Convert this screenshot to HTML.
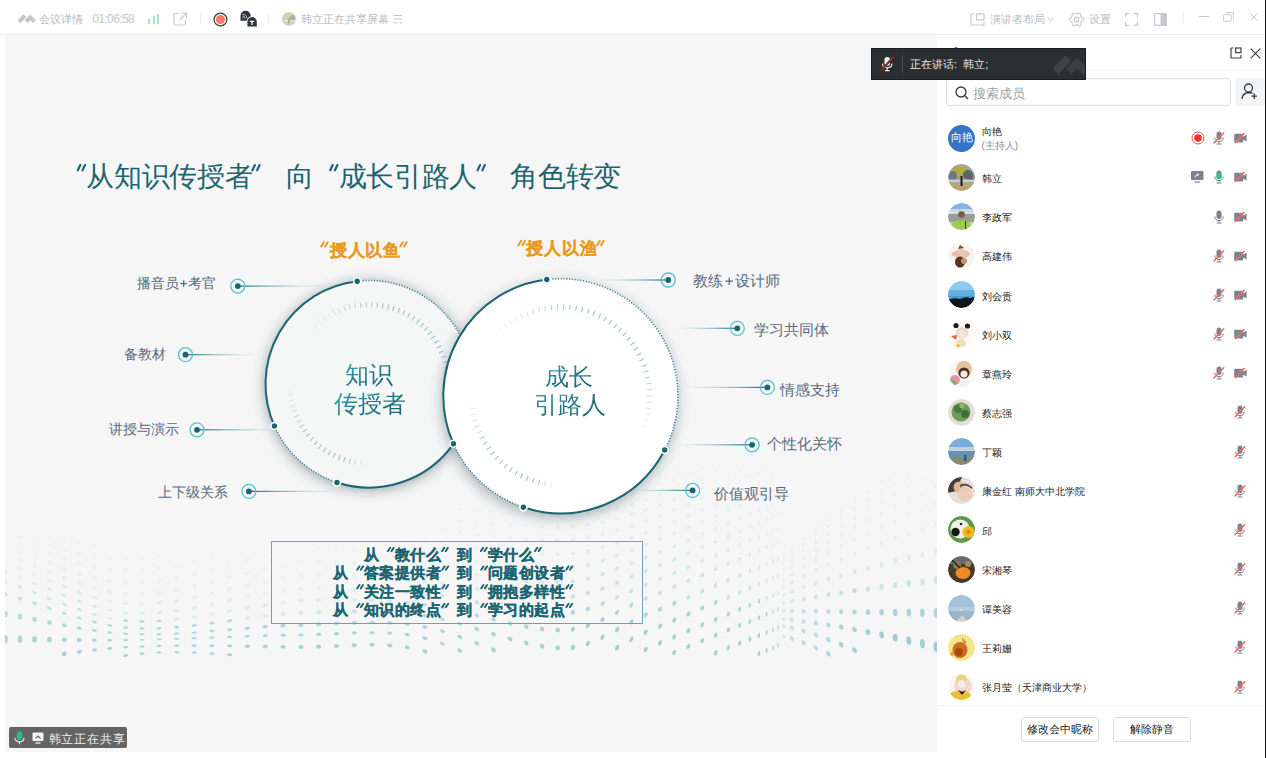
<!DOCTYPE html><html><head><meta charset="utf-8"><style>
html,body{margin:0;padding:0;width:1266px;height:758px;overflow:hidden;background:#fff;font-family:"Liberation Sans", sans-serif}
.a{position:absolute}
.t{position:absolute;white-space:nowrap;line-height:1}
.btn{border:1px solid #d9dbe0;border-radius:3px;box-sizing:border-box;font-size:10.6px;color:#222;text-align:center;line-height:23px;background:#fff}
</style></head><body>
<svg width="0" height="0" style="position:absolute"><defs><filter id="blur1" x="-10%" y="-10%" width="120%" height="120%"><feGaussianBlur stdDeviation="0.75"/></filter></defs></svg><svg class="a" style="left:14px;top:10px" width="24" height="16" viewBox="0 0 24 16">
<path d="M5.2 11.9 L10.75 5.6" stroke="#c2c4c9" stroke-width="3.9"/>
<polyline points="12.1,11.5 16.2,7.4 20.4,11.6" fill="none" stroke="#c2c4c9" stroke-width="4" stroke-linejoin="miter"/></svg><div class="t" style="left:39px;top:13.5px;font-size:11px;color:#b4b7bd;font-weight:400;">会议详情</div><div class="t" style="left:92.3px;top:12.6px;font-size:12px;color:#c3c6cb;font-weight:400;letter-spacing:-0.62px">01:06:58</div><div class="a" style="left:148px;top:19px;width:2px;height:5px;background:#a6e3c4"></div><div class="a" style="left:152.5px;top:16px;width:2px;height:8px;background:#a6e3c4"></div><div class="a" style="left:157px;top:14px;width:2px;height:10px;background:#a6e3c4"></div><svg class="a" style="left:173px;top:12px" width="15" height="14" viewBox="0 0 15 14">
<path d="M6 1.5 H2.5 Q1 1.5 1 3 V11.5 Q1 13 2.5 13 H11 Q12.5 13 12.5 11.5 V8" fill="none" stroke="#c9cbd0" stroke-width="1.2"/>
<path d="M8 1 H13.5 V6.5 M13.5 1 L7 7.5" fill="none" stroke="#c9cbd0" stroke-width="1.2"/></svg><div class="a" style="left:200px;top:13px;width:1px;height:11px;background:#ececef"></div><svg class="a" style="left:213px;top:12px" width="15" height="15" viewBox="0 0 15 15">
<circle cx="7.5" cy="7.5" r="6.4" fill="#fff" stroke="#3b3e46" stroke-width="1.3"/><circle cx="7.5" cy="7.5" r="4.6" fill="#f77b66"/></svg><svg class="a" style="left:240px;top:10px" width="18" height="17" viewBox="0 0 18 17">
<path d="M5.6 0.7 A5 5 0 0 1 10.7 5.7 A5 5 0 0 1 5.6 10.7 H0.5 V5.7 A5 5 0 0 1 5.6 0.7Z" fill="#30343e"/>
<path d="M2.6 4.2 A4.2 4.2 0 0 1 6.9 8.4 M2.6 6 A2.4 2.4 0 0 1 5 8.4 M2.6 7.6 A0.8 0.8 0 0 1 3.4 8.4" fill="none" stroke="#e8e8ea" stroke-width="0.8"/>
<path d="M11.6 6.2 A5.6 5.6 0 0 1 17.4 11.8 V16.9 H6.8 V11.8 A5.6 5.6 0 0 1 11.6 6.2Z" fill="#fff"/>
<path d="M12 7 A4.8 4.8 0 0 1 16.8 11.8 V16.4 H7.4 V11.8 A4.8 4.8 0 0 1 12 7Z" fill="#30343e"/>
<path d="M9.8 11.3 H14.4 M12.1 11.3 V15" stroke="#fff" stroke-width="1.3"/></svg><div class="a" style="left:268px;top:13px;width:1px;height:11px;background:#ececef"></div><svg class="a" style="left:282px;top:12px;opacity:0.5" width="14" height="14" viewBox="0 0 27 27"><clipPath id="avtop"><circle cx="13.5" cy="13.5" r="13.5"/></clipPath><g clip-path="url(#avtop)" filter="url(#blur1)"><rect width="27" height="27" fill="#8896a2"/><rect x="0" y="0" width="27" height="10" fill="#9aa8b8"/><ellipse cx="12" cy="8" rx="9" ry="6.5" fill="#b4a848"/><ellipse cx="20" cy="11" rx="5" ry="5" fill="#5a6868"/><rect x="0" y="15.5" width="27" height="3" fill="#c4ccd4"/><rect x="0" y="18" width="27" height="9" fill="#b8a47a"/><rect x="12.5" y="12" width="2" height="10" fill="#1e1e1e"/></g></svg><div class="t" style="left:301px;top:13.5px;font-size:11px;color:#b9bcc2;font-weight:400;">韩立正在共享屏幕</div><svg class="a" style="left:392px;top:14px" width="11" height="11" viewBox="0 0 11 11">
<path d="M1 1.5 H10 M1 5 H10 M1 8.7 H5.5" stroke="#c4c6cb" stroke-width="1"/><path d="M7.5 8 L9 9.5 L10.5 8" fill="none" stroke="#c4c6cb" stroke-width="0.9"/></svg><svg class="a" style="left:970px;top:13px" width="15" height="13" viewBox="0 0 15 13">
<path d="M4 1 H1.8 Q1 1 1 1.8 V11.2 Q1 12 1.8 12 H13.2 Q14 12 14 11.2 V8.5" fill="none" stroke="#c6c8cd" stroke-width="1.2"/>
<rect x="6.5" y="0.8" width="7.5" height="6" rx="0.6" fill="none" stroke="#c6c8cd" stroke-width="1.2"/></svg><div class="t" style="left:990px;top:13.5px;font-size:11px;color:#b9bcc2;font-weight:400;">演讲者布局</div><svg class="a" style="left:1047px;top:16.5px" width="7" height="5" viewBox="0 0 7 5"><path d="M0.6 0.8 L3.5 3.7 L6.4 0.8" fill="none" stroke="#c4c6cb" stroke-width="1"/></svg><svg class="a" style="left:1069px;top:11.5px" width="15" height="15" viewBox="0 0 15 15">
<path d="M14.60 7.50 L14.55 7.87 L14.39 8.22 L14.15 8.55 L13.84 8.85 L13.49 9.10 L13.13 9.33 L12.79 9.53 L12.50 9.73 L12.26 9.93 L12.09 10.15 L11.98 10.41 L11.93 10.72 L11.91 11.07 L11.90 11.46 L11.88 11.88 L11.83 12.31 L11.73 12.73 L11.57 13.10 L11.34 13.42 L11.05 13.65 L10.70 13.79 L10.32 13.83 L9.91 13.78 L9.50 13.66 L9.10 13.49 L8.73 13.29 L8.39 13.10 L8.07 12.94 L7.78 12.84 L7.50 12.80 L7.22 12.84 L6.93 12.94 L6.61 13.10 L6.27 13.29 L5.90 13.49 L5.50 13.66 L5.09 13.78 L4.68 13.83 L4.30 13.79 L3.95 13.65 L3.66 13.42 L3.43 13.10 L3.27 12.73 L3.17 12.31 L3.12 11.88 L3.10 11.46 L3.09 11.07 L3.07 10.72 L3.02 10.41 L2.91 10.15 L2.74 9.93 L2.50 9.73 L2.21 9.53 L1.87 9.33 L1.51 9.10 L1.16 8.85 L0.85 8.55 L0.61 8.22 L0.45 7.87 L0.40 7.50 L0.45 7.13 L0.61 6.78 L0.85 6.45 L1.16 6.15 L1.51 5.90 L1.87 5.67 L2.21 5.47 L2.50 5.27 L2.74 5.07 L2.91 4.85 L3.02 4.59 L3.07 4.28 L3.09 3.93 L3.10 3.54 L3.12 3.12 L3.17 2.69 L3.27 2.27 L3.43 1.90 L3.66 1.58 L3.95 1.35 L4.30 1.21 L4.68 1.17 L5.09 1.22 L5.50 1.34 L5.90 1.51 L6.27 1.71 L6.61 1.90 L6.93 2.06 L7.22 2.16 L7.50 2.20 L7.78 2.16 L8.07 2.06 L8.39 1.90 L8.73 1.71 L9.10 1.51 L9.50 1.34 L9.91 1.22 L10.32 1.17 L10.70 1.21 L11.05 1.35 L11.34 1.58 L11.57 1.90 L11.73 2.27 L11.83 2.69 L11.88 3.12 L11.90 3.54 L11.91 3.93 L11.93 4.28 L11.98 4.59 L12.09 4.85 L12.26 5.07 L12.50 5.27 L12.79 5.47 L13.13 5.67 L13.49 5.90 L13.84 6.15 L14.15 6.45 L14.39 6.78 L14.55 7.13 L14.60 7.50Z" fill="none" stroke="#c6c8cd" stroke-width="1.15" stroke-linejoin="round"/>
<circle cx="7.5" cy="7.5" r="2.4" fill="none" stroke="#c6c8cd" stroke-width="1.15"/></svg><div class="t" style="left:1089px;top:13.5px;font-size:11px;color:#b9bcc2;font-weight:400;">设置</div><svg class="a" style="left:1125px;top:13px" width="13" height="13" viewBox="0 0 13 13">
<path d="M0.6 4 V0.6 H4 M9 0.6 H12.4 V4 M12.4 9 V12.4 H9 M4 12.4 H0.6 V9" fill="none" stroke="#c6c8cd" stroke-width="1.2"/></svg><svg class="a" style="left:1154px;top:13px" width="13" height="13" viewBox="0 0 13 13">
<rect x="0.6" y="0.6" width="11.8" height="11.8" rx="1" fill="none" stroke="#c6c8cd" stroke-width="1.2"/><rect x="6.5" y="0.6" width="6" height="11.8" fill="#c6c8cd"/></svg><div class="a" style="left:1183px;top:11px;width:1px;height:12px;background:#ececef"></div><div class="a" style="left:1199px;top:16px;width:10px;height:1px;background:#c6c8cd"></div><svg class="a" style="left:1223px;top:12px" width="11" height="10" viewBox="0 0 11 10">
<rect x="0.6" y="2.6" width="7.6" height="6.8" rx="0.8" fill="none" stroke="#c9cbd0" stroke-width="1"/><path d="M2.6 0.6 H10.4 V7.4" fill="none" stroke="#c9cbd0" stroke-width="1"/></svg><svg class="a" style="left:1250px;top:13px" width="8" height="8" viewBox="0 0 8 8"><path d="M0.5 0.5 L7.5 7.5 M7.5 0.5 L0.5 7.5" stroke="#c9cbd0" stroke-width="1"/></svg><div class="a" style="left:0;top:34px;width:1264px;height:1px;background:#ebecf0"></div><div class="a" style="left:1265px;top:0;width:1px;height:758px;background:#111"></div><div class="a" id="slide" style="left:5px;top:35px;width:932px;height:717px;background:#f6f6f6;overflow:hidden"></div><svg class="a" style="left:0;top:0" width="1266" height="758" viewBox="0 0 1266 758"><defs><filter id="sh" x="-40%" y="-40%" width="180%" height="180%"><feGaussianBlur stdDeviation="6.5"/></filter><clipPath id="cs"><rect x="5" y="35" width="932" height="717"/></clipPath></defs><g clip-path="url(#cs)"><g><circle r="1" transform="matrix(2.32 0.01 0.00 3.99 5.5 639.0)" fill="#86c1c9" opacity="0.67"/><circle r="1" transform="matrix(2.32 0.28 0.00 3.19 5.5 614.1)" fill="#86c1c9" opacity="0.51"/><circle r="1" transform="matrix(2.32 0.48 0.00 1.92 5.5 594.1)" fill="#9fd0d6" opacity="0.47"/><circle r="1" transform="matrix(2.32 0.55 0.00 1.60 5.5 582.2)" fill="#9fd0d6" opacity="0.29"/><circle r="1" transform="matrix(2.32 0.58 0.00 1.44 5.5 572.2)" fill="#9fd0d6" opacity="0.18"/><circle r="1" transform="matrix(2.32 0.58 0.00 1.28 5.5 563.2)" fill="#9fd0d6" opacity="0.13"/><circle r="1" transform="matrix(2.32 0.55 0.00 1.12 5.5 555.2)" fill="#9fd0d6" opacity="0.09"/><circle r="1" transform="matrix(2.32 0.49 0.00 1.12 5.5 548.1)" fill="#9fd0d6" opacity="0.07"/><circle r="1" transform="matrix(2.32 0.42 0.00 1.12 5.5 541.1)" fill="#9fd0d6" opacity="0.05"/><circle r="1" transform="matrix(2.32 0.35 0.00 1.12 5.5 534.1)" fill="#9fd0d6" opacity="0.04"/><circle r="1" transform="matrix(2.34 0.03 0.00 3.61 20.0 639.2)" fill="#86c1c9" opacity="0.67"/><circle r="1" transform="matrix(2.34 0.43 0.00 2.91 20.0 616.6)" fill="#86c1c9" opacity="0.53"/><circle r="1" transform="matrix(2.34 0.73 0.00 1.81 20.0 598.4)" fill="#9fd0d6" opacity="0.50"/><circle r="1" transform="matrix(2.34 0.84 0.00 1.56 20.0 587.1)" fill="#9fd0d6" opacity="0.38"/><circle r="1" transform="matrix(2.34 0.89 0.00 1.44 20.0 577.4)" fill="#9fd0d6" opacity="0.21"/><circle r="1" transform="matrix(2.34 0.90 0.00 1.32 20.0 568.4)" fill="#9fd0d6" opacity="0.15"/><circle r="1" transform="matrix(2.34 0.86 0.00 1.20 20.0 560.1)" fill="#9fd0d6" opacity="0.11"/><circle r="1" transform="matrix(2.34 0.78 0.00 1.22 20.0 552.6)" fill="#9fd0d6" opacity="0.08"/><circle r="1" transform="matrix(2.34 0.68 0.00 1.22 20.0 545.0)" fill="#9fd0d6" opacity="0.06"/><circle r="1" transform="matrix(2.34 0.58 0.00 1.22 20.0 537.4)" fill="#9fd0d6" opacity="0.05"/><circle r="1" transform="matrix(2.36 0.03 0.00 3.19 34.6 639.4)" fill="#86c1c9" opacity="0.67"/><circle r="1" transform="matrix(2.36 0.47 0.00 2.60 34.6 619.4)" fill="#86c1c9" opacity="0.56"/><circle r="1" transform="matrix(2.36 0.79 0.00 1.70 34.6 603.2)" fill="#86c1c9" opacity="0.50"/><circle r="1" transform="matrix(2.36 0.92 0.00 1.50 34.6 592.6)" fill="#9fd0d6" opacity="0.45"/><circle r="1" transform="matrix(2.36 0.97 0.00 1.43 34.6 583.2)" fill="#9fd0d6" opacity="0.31"/><circle r="1" transform="matrix(2.36 0.98 0.00 1.36 34.6 574.2)" fill="#9fd0d6" opacity="0.19"/><circle r="1" transform="matrix(2.36 0.94 0.00 1.28 34.6 565.8)" fill="#9fd0d6" opacity="0.14"/><circle r="1" transform="matrix(2.36 0.86 0.00 1.33 34.6 557.8)" fill="#9fd0d6" opacity="0.10"/><circle r="1" transform="matrix(2.36 0.75 0.00 1.33 34.6 549.5)" fill="#9fd0d6" opacity="0.07"/><circle r="1" transform="matrix(2.36 0.64 0.00 1.33 34.6 541.2)" fill="#9fd0d6" opacity="0.05"/><circle r="1" transform="matrix(2.38 0.04 0.00 2.76 49.4 639.6)" fill="#86c1c9" opacity="0.67"/><circle r="1" transform="matrix(2.38 0.48 0.00 2.27 49.4 622.4)" fill="#86c1c9" opacity="0.58"/><circle r="1" transform="matrix(2.38 0.81 0.00 1.57 49.4 608.2)" fill="#86c1c9" opacity="0.49"/><circle r="1" transform="matrix(2.38 0.94 0.00 1.45 49.4 598.4)" fill="#9fd0d6" opacity="0.49"/><circle r="1" transform="matrix(2.38 0.99 0.00 1.42 49.4 589.3)" fill="#9fd0d6" opacity="0.40"/><circle r="1" transform="matrix(2.38 1.00 0.00 1.39 49.4 580.5)" fill="#9fd0d6" opacity="0.25"/><circle r="1" transform="matrix(2.38 0.97 0.00 1.37 49.4 571.8)" fill="#9fd0d6" opacity="0.17"/><circle r="1" transform="matrix(2.38 0.88 0.00 1.44 49.4 563.2)" fill="#9fd0d6" opacity="0.13"/><circle r="1" transform="matrix(2.38 0.77 0.00 1.44 49.4 554.2)" fill="#9fd0d6" opacity="0.09"/><circle r="1" transform="matrix(2.38 0.66 0.00 1.44 49.4 545.3)" fill="#9fd0d6" opacity="0.06"/><circle r="1" transform="matrix(2.38 0.55 0.00 1.45 49.4 536.2)" fill="#9fd0d6" opacity="0.04"/><circle r="1" transform="matrix(2.40 -0.33 0.00 2.25 64.3 653.9)" fill="#86c1c9" opacity="0.69"/><circle r="1" transform="matrix(2.40 0.03 0.00 2.32 64.3 639.8)" fill="#86c1c9" opacity="0.67"/><circle r="1" transform="matrix(2.40 0.46 0.00 1.94 64.3 625.3)" fill="#86c1c9" opacity="0.60"/><circle r="1" transform="matrix(2.40 0.79 0.00 1.45 64.3 613.2)" fill="#86c1c9" opacity="0.50"/><circle r="1" transform="matrix(2.40 0.91 0.00 1.39 64.3 604.2)" fill="#86c1c9" opacity="0.44"/><circle r="1" transform="matrix(2.40 0.96 0.00 1.41 64.3 595.4)" fill="#9fd0d6" opacity="0.42"/><circle r="1" transform="matrix(2.40 0.97 0.00 1.43 64.3 586.6)" fill="#9fd0d6" opacity="0.32"/><circle r="1" transform="matrix(2.40 0.94 0.00 1.45 64.3 577.7)" fill="#9fd0d6" opacity="0.21"/><circle r="1" transform="matrix(2.40 0.85 0.00 1.55 64.3 568.6)" fill="#9fd0d6" opacity="0.15"/><circle r="1" transform="matrix(2.40 0.74 0.00 1.55 64.3 559.0)" fill="#9fd0d6" opacity="0.11"/><circle r="1" transform="matrix(2.40 0.63 0.00 1.55 64.3 549.3)" fill="#9fd0d6" opacity="0.07"/><circle r="1" transform="matrix(2.40 0.52 0.00 1.56 64.3 539.6)" fill="#9fd0d6" opacity="0.05"/><circle r="1" transform="matrix(2.43 -0.31 0.00 1.90 79.3 651.8)" fill="#86c1c9" opacity="0.69"/><circle r="1" transform="matrix(2.43 0.03 0.00 1.90 79.3 640.0)" fill="#86c1c9" opacity="0.67"/><circle r="1" transform="matrix(2.43 0.43 0.00 1.63 79.3 628.1)" fill="#86c1c9" opacity="0.62"/><circle r="1" transform="matrix(2.43 0.73 0.00 1.33 79.3 617.9)" fill="#86c1c9" opacity="0.47"/><circle r="1" transform="matrix(2.43 0.83 0.00 1.34 79.3 609.6)" fill="#86c1c9" opacity="0.41"/><circle r="1" transform="matrix(2.43 0.88 0.00 1.40 79.3 601.2)" fill="#86c1c9" opacity="0.35"/><circle r="1" transform="matrix(2.43 0.89 0.00 1.47 79.3 592.4)" fill="#9fd0d6" opacity="0.32"/><circle r="1" transform="matrix(2.43 0.85 0.00 1.53 79.3 583.3)" fill="#9fd0d6" opacity="0.22"/><circle r="1" transform="matrix(2.43 0.77 0.00 1.65 79.3 573.7)" fill="#9fd0d6" opacity="0.16"/><circle r="1" transform="matrix(2.43 0.66 0.00 1.65 79.3 563.4)" fill="#9fd0d6" opacity="0.11"/><circle r="1" transform="matrix(2.43 0.56 0.00 1.66 79.3 553.0)" fill="#9fd0d6" opacity="0.07"/><circle r="1" transform="matrix(2.43 0.45 0.00 1.67 79.3 542.7)" fill="#9fd0d6" opacity="0.05"/><circle r="1" transform="matrix(2.46 -0.28 0.00 1.58 94.4 650.0)" fill="#86c1c9" opacity="0.69"/><circle r="1" transform="matrix(2.46 0.01 0.00 1.53 94.4 640.1)" fill="#86c1c9" opacity="0.67"/><circle r="1" transform="matrix(2.46 0.36 0.00 1.35 94.4 630.5)" fill="#86c1c9" opacity="0.63"/><circle r="1" transform="matrix(2.46 0.62 0.00 1.23 94.4 622.1)" fill="#86c1c9" opacity="0.58"/><circle r="1" transform="matrix(2.46 0.70 0.00 1.30 94.4 614.4)" fill="#86c1c9" opacity="0.34"/><circle r="1" transform="matrix(2.46 0.74 0.00 1.40 94.4 606.3)" fill="#86c1c9" opacity="0.30"/><circle r="1" transform="matrix(2.46 0.73 0.00 1.51 94.4 597.5)" fill="#9fd0d6" opacity="0.25"/><circle r="1" transform="matrix(2.46 0.69 0.00 1.61 94.4 588.1)" fill="#9fd0d6" opacity="0.20"/><circle r="1" transform="matrix(2.46 0.62 0.00 1.75 94.4 578.0)" fill="#9fd0d6" opacity="0.14"/><circle r="1" transform="matrix(2.46 0.53 0.00 1.75 94.4 567.1)" fill="#9fd0d6" opacity="0.10"/><circle r="1" transform="matrix(2.46 0.43 0.00 1.76 94.4 556.1)" fill="#9fd0d6" opacity="0.06"/><circle r="1" transform="matrix(2.46 0.34 0.00 1.77 94.4 545.1)" fill="#9fd0d6" opacity="0.04"/><circle r="1" transform="matrix(2.52 -0.23 0.00 1.33 109.8 648.4)" fill="#86c1c9" opacity="0.69"/><circle r="1" transform="matrix(2.52 -0.00 0.00 1.22 109.8 640.1)" fill="#86c1c9" opacity="0.67"/><circle r="1" transform="matrix(2.52 0.27 0.00 1.13 109.8 632.5)" fill="#86c1c9" opacity="0.64"/><circle r="1" transform="matrix(2.52 0.46 0.00 1.16 109.8 625.5)" fill="#86c1c9" opacity="0.60"/><circle r="1" transform="matrix(2.52 0.52 0.00 1.28 109.8 618.2)" fill="#86c1c9" opacity="0.27"/><circle r="1" transform="matrix(2.52 0.53 0.00 1.41 109.8 610.2)" fill="#86c1c9" opacity="0.24"/><circle r="1" transform="matrix(2.52 0.52 0.00 1.55 109.8 601.4)" fill="#86c1c9" opacity="0.20"/><circle r="1" transform="matrix(2.52 0.48 0.00 1.68 109.8 591.8)" fill="#9fd0d6" opacity="0.16"/><circle r="1" transform="matrix(2.52 0.41 0.00 1.84 109.8 581.2)" fill="#9fd0d6" opacity="0.12"/><circle r="1" transform="matrix(2.52 0.33 0.00 1.84 109.8 569.8)" fill="#9fd0d6" opacity="0.08"/><circle r="1" transform="matrix(2.52 0.25 0.00 1.84 109.8 558.3)" fill="#9fd0d6" opacity="0.05"/><circle r="1" transform="matrix(2.60 -0.43 0.00 1.35 125.6 655.7)" fill="#86c1c9" opacity="0.69"/><circle r="1" transform="matrix(2.60 -0.16 0.00 1.15 125.6 647.2)" fill="#86c1c9" opacity="0.69"/><circle r="1" transform="matrix(2.60 -0.03 0.00 1.00 125.6 640.1)" fill="#86c1c9" opacity="0.67"/><circle r="1" transform="matrix(2.60 0.14 0.00 0.98 125.6 633.8)" fill="#86c1c9" opacity="0.65"/><circle r="1" transform="matrix(2.60 0.24 0.00 1.12 125.6 627.7)" fill="#86c1c9" opacity="0.61"/><circle r="1" transform="matrix(2.60 0.26 0.00 1.28 125.6 620.6)" fill="#86c1c9" opacity="0.56"/><circle r="1" transform="matrix(2.60 0.25 0.00 1.43 125.6 612.7)" fill="#86c1c9" opacity="0.23"/><circle r="1" transform="matrix(2.60 0.22 0.00 1.59 125.6 603.7)" fill="#86c1c9" opacity="0.19"/><circle r="1" transform="matrix(2.60 0.17 0.00 1.75 125.6 593.8)" fill="#9fd0d6" opacity="0.15"/><circle r="1" transform="matrix(2.60 0.11 0.00 1.90 125.6 582.9)" fill="#9fd0d6" opacity="0.11"/><circle r="1" transform="matrix(2.60 0.05 0.00 1.90 125.6 571.0)" fill="#9fd0d6" opacity="0.08"/><circle r="1" transform="matrix(2.60 -0.00 0.00 1.91 125.6 559.1)" fill="#9fd0d6" opacity="0.05"/><circle r="1" transform="matrix(2.60 -0.24 0.00 1.15 142.0 653.6)" fill="#86c1c9" opacity="0.69"/><circle r="1" transform="matrix(2.60 -0.10 0.00 1.07 142.0 646.5)" fill="#86c1c9" opacity="0.69"/><circle r="1" transform="matrix(2.60 -0.05 0.00 0.88 142.0 639.8)" fill="#86c1c9" opacity="0.67"/><circle r="1" transform="matrix(2.60 0.03 0.00 0.93 142.0 634.3)" fill="#86c1c9" opacity="0.65"/><circle r="1" transform="matrix(2.60 0.05 0.00 1.13 142.0 628.5)" fill="#86c1c9" opacity="0.62"/><circle r="1" transform="matrix(2.60 0.02 0.00 1.30 142.0 621.4)" fill="#86c1c9" opacity="0.57"/><circle r="1" transform="matrix(2.60 -0.01 0.00 1.47 142.0 613.3)" fill="#86c1c9" opacity="0.23"/><circle r="1" transform="matrix(2.60 -0.06 0.00 1.63 142.0 604.1)" fill="#86c1c9" opacity="0.19"/><circle r="1" transform="matrix(2.60 -0.11 0.00 1.80 142.0 593.9)" fill="#9fd0d6" opacity="0.15"/><circle r="1" transform="matrix(2.60 -0.15 0.00 1.96 142.0 582.7)" fill="#9fd0d6" opacity="0.11"/><circle r="1" transform="matrix(2.60 -0.20 0.00 1.96 142.0 570.5)" fill="#9fd0d6" opacity="0.07"/><circle r="1" transform="matrix(2.60 -0.24 0.00 1.95 142.0 558.2)" fill="#9fd0d6" opacity="0.05"/><circle r="1" transform="matrix(2.60 -0.11 0.00 1.05 159.1 652.5)" fill="#86c1c9" opacity="0.69"/><circle r="1" transform="matrix(2.60 -0.06 0.00 1.05 159.1 645.9)" fill="#86c1c9" opacity="0.69"/><circle r="1" transform="matrix(2.60 -0.07 0.00 0.84 159.1 639.4)" fill="#86c1c9" opacity="0.67"/><circle r="1" transform="matrix(2.60 -0.06 0.00 0.94 159.1 634.2)" fill="#86c1c9" opacity="0.65"/><circle r="1" transform="matrix(2.60 -0.10 0.00 1.17 159.1 628.3)" fill="#86c1c9" opacity="0.62"/><circle r="1" transform="matrix(2.60 -0.15 0.00 1.34 159.1 621.0)" fill="#86c1c9" opacity="0.57"/><circle r="1" transform="matrix(2.60 -0.21 0.00 1.53 159.1 612.6)" fill="#86c1c9" opacity="0.23"/><circle r="1" transform="matrix(2.60 -0.27 0.00 1.68 159.1 603.0)" fill="#86c1c9" opacity="0.19"/><circle r="1" transform="matrix(2.60 -0.32 0.00 1.85 159.1 592.5)" fill="#9fd0d6" opacity="0.15"/><circle r="1" transform="matrix(2.60 -0.36 0.00 2.00 159.1 581.0)" fill="#9fd0d6" opacity="0.11"/><circle r="1" transform="matrix(2.60 -0.39 0.00 2.00 159.1 568.5)" fill="#9fd0d6" opacity="0.07"/><circle r="1" transform="matrix(2.60 -0.42 0.00 1.97 159.1 556.0)" fill="#9fd0d6" opacity="0.04"/><circle r="1" transform="matrix(2.60 0.01 0.00 1.04 176.6 652.2)" fill="#86c1c9" opacity="0.69"/><circle r="1" transform="matrix(2.60 -0.03 0.00 1.09 176.6 645.7)" fill="#86c1c9" opacity="0.69"/><circle r="1" transform="matrix(2.60 -0.09 0.00 0.85 176.6 638.8)" fill="#86c1c9" opacity="0.67"/><circle r="1" transform="matrix(2.60 -0.13 0.00 1.00 176.6 633.5)" fill="#86c1c9" opacity="0.65"/><circle r="1" transform="matrix(2.60 -0.21 0.00 1.25 176.6 627.2)" fill="#86c1c9" opacity="0.61"/><circle r="1" transform="matrix(2.60 -0.29 0.00 1.41 176.6 619.4)" fill="#86c1c9" opacity="0.25"/><circle r="1" transform="matrix(2.60 -0.36 0.00 1.60 176.6 610.6)" fill="#86c1c9" opacity="0.22"/><circle r="1" transform="matrix(2.60 -0.43 0.00 1.74 176.6 600.7)" fill="#86c1c9" opacity="0.18"/><circle r="1" transform="matrix(2.60 -0.48 0.00 1.89 176.6 589.8)" fill="#9fd0d6" opacity="0.14"/><circle r="1" transform="matrix(2.60 -0.52 0.00 2.02 176.6 578.0)" fill="#9fd0d6" opacity="0.10"/><circle r="1" transform="matrix(2.60 -0.54 0.00 2.02 176.6 565.3)" fill="#9fd0d6" opacity="0.06"/><circle r="1" transform="matrix(2.60 0.10 0.00 1.12 194.2 652.6)" fill="#86c1c9" opacity="0.69"/><circle r="1" transform="matrix(2.60 0.00 0.00 1.18 194.2 645.6)" fill="#86c1c9" opacity="0.69"/><circle r="1" transform="matrix(2.60 -0.10 0.00 0.92 194.2 638.2)" fill="#86c1c9" opacity="0.67"/><circle r="1" transform="matrix(2.60 -0.18 0.00 1.12 194.2 632.5)" fill="#86c1c9" opacity="0.64"/><circle r="1" transform="matrix(2.60 -0.30 0.00 1.34 194.2 625.5)" fill="#86c1c9" opacity="0.60"/><circle r="1" transform="matrix(2.60 -0.40 0.00 1.49 194.2 617.1)" fill="#86c1c9" opacity="0.24"/><circle r="1" transform="matrix(2.60 -0.47 0.00 1.67 194.2 607.8)" fill="#86c1c9" opacity="0.21"/><circle r="1" transform="matrix(2.60 -0.55 0.00 1.80 194.2 597.3)" fill="#9fd0d6" opacity="0.17"/><circle r="1" transform="matrix(2.60 -0.60 0.00 1.93 194.2 586.1)" fill="#9fd0d6" opacity="0.12"/><circle r="1" transform="matrix(2.60 -0.63 0.00 2.04 194.2 574.1)" fill="#9fd0d6" opacity="0.08"/><circle r="1" transform="matrix(2.60 -0.65 0.00 2.04 194.2 561.3)" fill="#9fd0d6" opacity="0.05"/><circle r="1" transform="matrix(2.60 0.16 0.00 1.25 211.9 653.5)" fill="#86c1c9" opacity="0.69"/><circle r="1" transform="matrix(2.60 0.02 0.00 1.30 211.9 645.7)" fill="#86c1c9" opacity="0.69"/><circle r="1" transform="matrix(2.60 -0.10 0.00 1.03 211.9 637.6)" fill="#86c1c9" opacity="0.66"/><circle r="1" transform="matrix(2.60 -0.21 0.00 1.26 211.9 631.1)" fill="#86c1c9" opacity="0.63"/><circle r="1" transform="matrix(2.60 -0.35 0.00 1.45 211.9 623.2)" fill="#86c1c9" opacity="0.58"/><circle r="1" transform="matrix(2.60 -0.46 0.00 1.57 211.9 614.2)" fill="#86c1c9" opacity="0.23"/><circle r="1" transform="matrix(2.60 -0.54 0.00 1.76 211.9 604.3)" fill="#86c1c9" opacity="0.19"/><circle r="1" transform="matrix(2.60 -0.61 0.00 1.85 211.9 593.4)" fill="#9fd0d6" opacity="0.15"/><circle r="1" transform="matrix(2.60 -0.66 0.00 1.96 211.9 581.8)" fill="#9fd0d6" opacity="0.11"/><circle r="1" transform="matrix(2.60 -0.69 0.00 2.06 211.9 569.5)" fill="#9fd0d6" opacity="0.07"/><circle r="1" transform="matrix(2.60 -0.70 0.00 2.06 211.9 556.7)" fill="#9fd0d6" opacity="0.04"/><circle r="1" transform="matrix(2.60 0.21 0.00 1.42 229.6 654.7)" fill="#86c1c9" opacity="0.69"/><circle r="1" transform="matrix(2.60 0.04 0.00 1.44 229.6 645.9)" fill="#86c1c9" opacity="0.69"/><circle r="1" transform="matrix(2.60 -0.10 0.00 1.16 229.6 636.9)" fill="#86c1c9" opacity="0.66"/><circle r="1" transform="matrix(2.60 -0.22 0.00 1.42 229.6 629.7)" fill="#86c1c9" opacity="0.63"/><circle r="1" transform="matrix(2.60 -0.37 0.00 1.57 229.6 620.8)" fill="#86c1c9" opacity="0.57"/><circle r="1" transform="matrix(2.60 -0.48 0.00 1.66 229.6 611.0)" fill="#86c1c9" opacity="0.22"/><circle r="1" transform="matrix(2.60 -0.56 0.00 1.84 229.6 600.6)" fill="#86c1c9" opacity="0.18"/><circle r="1" transform="matrix(2.60 -0.63 0.00 1.91 229.6 589.1)" fill="#9fd0d6" opacity="0.13"/><circle r="1" transform="matrix(2.60 -0.68 0.00 1.99 229.6 577.2)" fill="#9fd0d6" opacity="0.09"/><circle r="1" transform="matrix(2.60 -0.70 0.00 2.06 229.6 564.7)" fill="#9fd0d6" opacity="0.06"/><circle r="1" transform="matrix(2.60 0.05 0.00 1.59 247.4 646.2)" fill="#86c1c9" opacity="0.69"/><circle r="1" transform="matrix(2.60 -0.09 0.00 1.29 247.4 636.2)" fill="#86c1c9" opacity="0.66"/><circle r="1" transform="matrix(2.60 -0.21 0.00 1.58 247.4 628.2)" fill="#86c1c9" opacity="0.62"/><circle r="1" transform="matrix(2.60 -0.36 0.00 1.68 247.4 618.3)" fill="#86c1c9" opacity="0.25"/><circle r="1" transform="matrix(2.60 -0.46 0.00 1.74 247.4 607.8)" fill="#86c1c9" opacity="0.21"/><circle r="1" transform="matrix(2.60 -0.53 0.00 1.92 247.4 596.8)" fill="#9fd0d6" opacity="0.16"/><circle r="1" transform="matrix(2.60 -0.60 0.00 1.96 247.4 584.9)" fill="#9fd0d6" opacity="0.12"/><circle r="1" transform="matrix(2.60 -0.64 0.00 2.02 247.4 572.6)" fill="#9fd0d6" opacity="0.08"/><circle r="1" transform="matrix(2.60 -0.67 0.00 2.07 247.4 560.0)" fill="#9fd0d6" opacity="0.05"/><circle r="1" transform="matrix(2.60 0.05 0.00 1.73 265.2 646.5)" fill="#86c1c9" opacity="0.69"/><circle r="1" transform="matrix(2.60 -0.07 0.00 1.42 265.2 635.7)" fill="#86c1c9" opacity="0.66"/><circle r="1" transform="matrix(2.60 -0.18 0.00 1.73 265.2 626.8)" fill="#86c1c9" opacity="0.61"/><circle r="1" transform="matrix(2.60 -0.31 0.00 1.78 265.2 616.0)" fill="#86c1c9" opacity="0.24"/><circle r="1" transform="matrix(2.60 -0.39 0.00 1.82 265.2 604.8)" fill="#86c1c9" opacity="0.20"/><circle r="1" transform="matrix(2.60 -0.46 0.00 1.99 265.2 593.4)" fill="#9fd0d6" opacity="0.15"/><circle r="1" transform="matrix(2.60 -0.51 0.00 2.01 265.2 581.0)" fill="#9fd0d6" opacity="0.11"/><circle r="1" transform="matrix(2.60 -0.55 0.00 2.04 265.2 568.5)" fill="#9fd0d6" opacity="0.07"/><circle r="1" transform="matrix(2.60 -0.57 0.00 2.07 265.2 555.7)" fill="#9fd0d6" opacity="0.04"/><circle r="1" transform="matrix(2.60 0.04 0.00 1.84 283.1 646.8)" fill="#86c1c9" opacity="0.69"/><circle r="1" transform="matrix(2.60 -0.05 0.00 1.53 283.1 635.3)" fill="#86c1c9" opacity="0.65"/><circle r="1" transform="matrix(2.60 -0.14 0.00 1.85 283.1 625.7)" fill="#86c1c9" opacity="0.60"/><circle r="1" transform="matrix(2.60 -0.23 0.00 1.87 283.1 614.1)" fill="#86c1c9" opacity="0.25"/><circle r="1" transform="matrix(2.60 -0.29 0.00 1.88 283.1 602.5)" fill="#86c1c9" opacity="0.20"/><circle r="1" transform="matrix(2.60 -0.34 0.00 2.04 283.1 590.7)" fill="#9fd0d6" opacity="0.15"/><circle r="1" transform="matrix(2.60 -0.38 0.00 2.05 283.1 577.9)" fill="#9fd0d6" opacity="0.11"/><circle r="1" transform="matrix(2.60 -0.41 0.00 2.06 283.1 565.1)" fill="#9fd0d6" opacity="0.07"/><circle r="1" transform="matrix(2.60 0.02 0.00 1.92 300.9 647.0)" fill="#86c1c9" opacity="0.69"/><circle r="1" transform="matrix(2.60 -0.03 0.00 1.60 300.9 635.0)" fill="#86c1c9" opacity="0.65"/><circle r="1" transform="matrix(2.60 -0.07 0.00 1.92 300.9 625.0)" fill="#86c1c9" opacity="0.60"/><circle r="1" transform="matrix(2.60 -0.12 0.00 1.92 300.9 613.0)" fill="#86c1c9" opacity="0.27"/><circle r="1" transform="matrix(2.60 -0.15 0.00 1.92 300.9 600.9)" fill="#86c1c9" opacity="0.22"/><circle r="1" transform="matrix(2.60 -0.17 0.00 2.08 300.9 588.9)" fill="#9fd0d6" opacity="0.16"/><circle r="1" transform="matrix(2.60 -0.20 0.00 2.08 300.9 575.9)" fill="#9fd0d6" opacity="0.11"/><circle r="1" transform="matrix(2.60 -0.22 0.00 2.08 300.9 562.9)" fill="#9fd0d6" opacity="0.07"/><circle r="1" transform="matrix(2.60 -0.09 0.00 1.96 318.7 646.7)" fill="#86c1c9" opacity="0.69"/><circle r="1" transform="matrix(2.60 -0.11 0.00 1.63 318.7 634.5)" fill="#86c1c9" opacity="0.65"/><circle r="1" transform="matrix(2.60 -0.12 0.00 1.93 318.7 624.3)" fill="#86c1c9" opacity="0.59"/><circle r="1" transform="matrix(2.60 -0.10 0.00 1.93 318.7 612.2)" fill="#86c1c9" opacity="0.30"/><circle r="1" transform="matrix(2.60 -0.09 0.00 1.92 318.7 600.1)" fill="#86c1c9" opacity="0.24"/><circle r="1" transform="matrix(2.60 -0.07 0.00 2.09 318.7 588.1)" fill="#9fd0d6" opacity="0.18"/><circle r="1" transform="matrix(2.60 -0.06 0.00 2.10 318.7 575.1)" fill="#9fd0d6" opacity="0.12"/><circle r="1" transform="matrix(2.60 -0.06 0.00 2.09 318.7 562.0)" fill="#9fd0d6" opacity="0.07"/><circle r="1" transform="matrix(2.60 -0.07 0.00 2.09 318.7 548.9)" fill="#9fd0d6" opacity="0.04"/><circle r="1" transform="matrix(2.60 -0.13 0.00 1.97 336.5 645.9)" fill="#86c1c9" opacity="0.69"/><circle r="1" transform="matrix(2.60 -0.13 0.00 1.63 336.5 633.7)" fill="#86c1c9" opacity="0.65"/><circle r="1" transform="matrix(2.60 -0.12 0.00 1.90 336.5 623.5)" fill="#86c1c9" opacity="0.59"/><circle r="1" transform="matrix(2.60 -0.07 0.00 1.90 336.5 611.6)" fill="#86c1c9" opacity="0.33"/><circle r="1" transform="matrix(2.60 -0.02 0.00 1.89 336.5 599.8)" fill="#9fd0d6" opacity="0.26"/><circle r="1" transform="matrix(2.60 0.02 0.00 2.06 336.5 588.0)" fill="#9fd0d6" opacity="0.19"/><circle r="1" transform="matrix(2.60 0.06 0.00 2.10 336.5 575.1)" fill="#9fd0d6" opacity="0.13"/><circle r="1" transform="matrix(2.60 0.06 0.00 2.09 336.5 562.0)" fill="#9fd0d6" opacity="0.08"/><circle r="1" transform="matrix(2.60 0.06 0.00 2.09 336.5 548.9)" fill="#9fd0d6" opacity="0.05"/><circle r="1" transform="matrix(2.60 -0.09 0.00 1.96 354.3 645.2)" fill="#86c1c9" opacity="0.69"/><circle r="1" transform="matrix(2.60 -0.09 0.00 1.62 354.3 632.9)" fill="#86c1c9" opacity="0.64"/><circle r="1" transform="matrix(2.60 -0.08 0.00 1.83 354.3 622.8)" fill="#86c1c9" opacity="0.58"/><circle r="1" transform="matrix(2.60 -0.01 0.00 1.84 354.3 611.4)" fill="#86c1c9" opacity="0.36"/><circle r="1" transform="matrix(2.60 0.04 0.00 1.84 354.3 599.9)" fill="#9fd0d6" opacity="0.29"/><circle r="1" transform="matrix(2.60 0.10 0.00 2.01 354.3 588.4)" fill="#9fd0d6" opacity="0.22"/><circle r="1" transform="matrix(2.60 0.14 0.00 2.09 354.3 575.8)" fill="#9fd0d6" opacity="0.15"/><circle r="1" transform="matrix(2.60 0.15 0.00 2.09 354.3 562.7)" fill="#9fd0d6" opacity="0.09"/><circle r="1" transform="matrix(2.60 0.16 0.00 2.08 354.3 549.7)" fill="#9fd0d6" opacity="0.05"/><circle r="1" transform="matrix(2.60 0.01 0.00 1.96 372.0 644.8)" fill="#86c1c9" opacity="0.69"/><circle r="1" transform="matrix(2.60 0.01 0.00 1.61 372.0 632.6)" fill="#86c1c9" opacity="0.64"/><circle r="1" transform="matrix(2.60 0.00 0.00 1.76 372.0 622.5)" fill="#86c1c9" opacity="0.58"/><circle r="1" transform="matrix(2.60 0.06 0.00 1.78 372.0 611.5)" fill="#86c1c9" opacity="0.40"/><circle r="1" transform="matrix(2.60 0.11 0.00 1.78 372.0 600.4)" fill="#86c1c9" opacity="0.32"/><circle r="1" transform="matrix(2.60 0.15 0.00 1.96 372.0 589.2)" fill="#9fd0d6" opacity="0.25"/><circle r="1" transform="matrix(2.60 0.20 0.00 2.08 372.0 577.0)" fill="#9fd0d6" opacity="0.17"/><circle r="1" transform="matrix(2.60 0.21 0.00 2.08 372.0 564.0)" fill="#9fd0d6" opacity="0.11"/><circle r="1" transform="matrix(2.60 0.22 0.00 2.08 372.0 551.0)" fill="#9fd0d6" opacity="0.06"/><circle r="1" transform="matrix(2.60 0.18 0.00 1.97 389.7 645.4)" fill="#86c1c9" opacity="0.69"/><circle r="1" transform="matrix(2.60 0.16 0.00 1.63 389.7 633.1)" fill="#86c1c9" opacity="0.64"/><circle r="1" transform="matrix(2.60 0.12 0.00 1.72 389.7 622.9)" fill="#86c1c9" opacity="0.58"/><circle r="1" transform="matrix(2.60 0.15 0.00 1.74 389.7 612.2)" fill="#86c1c9" opacity="0.44"/><circle r="1" transform="matrix(2.60 0.17 0.00 1.74 389.7 601.3)" fill="#86c1c9" opacity="0.36"/><circle r="1" transform="matrix(2.60 0.20 0.00 1.92 389.7 590.4)" fill="#9fd0d6" opacity="0.27"/><circle r="1" transform="matrix(2.60 0.22 0.00 2.07 389.7 578.4)" fill="#9fd0d6" opacity="0.19"/><circle r="1" transform="matrix(2.60 0.23 0.00 2.08 389.7 565.5)" fill="#9fd0d6" opacity="0.12"/><circle r="1" transform="matrix(2.60 0.23 0.00 2.07 389.7 552.5)" fill="#9fd0d6" opacity="0.07"/><circle r="1" transform="matrix(2.60 0.23 0.00 2.07 389.7 539.5)" fill="#9fd0d6" opacity="0.04"/><circle r="1" transform="matrix(2.60 0.42 0.00 2.02 407.3 647.4)" fill="#86c1c9" opacity="0.69"/><circle r="1" transform="matrix(2.60 0.36 0.00 1.68 407.3 634.8)" fill="#86c1c9" opacity="0.65"/><circle r="1" transform="matrix(2.60 0.28 0.00 1.72 407.3 624.3)" fill="#86c1c9" opacity="0.59"/><circle r="1" transform="matrix(2.60 0.26 0.00 1.73 407.3 613.5)" fill="#86c1c9" opacity="0.48"/><circle r="1" transform="matrix(2.60 0.24 0.00 1.74 407.3 602.7)" fill="#86c1c9" opacity="0.39"/><circle r="1" transform="matrix(2.60 0.22 0.00 1.91 407.3 591.9)" fill="#9fd0d6" opacity="0.30"/><circle r="1" transform="matrix(2.60 0.22 0.00 2.07 407.3 579.9)" fill="#9fd0d6" opacity="0.21"/><circle r="1" transform="matrix(2.60 0.22 0.00 2.08 407.3 567.0)" fill="#9fd0d6" opacity="0.14"/><circle r="1" transform="matrix(2.60 0.21 0.00 2.07 407.3 554.0)" fill="#9fd0d6" opacity="0.08"/><circle r="1" transform="matrix(2.60 0.21 0.00 2.07 407.3 541.1)" fill="#9fd0d6" opacity="0.05"/><circle r="1" transform="matrix(2.60 0.76 0.00 2.11 424.9 651.3)" fill="#86c1c9" opacity="0.69"/><circle r="1" transform="matrix(2.60 0.65 0.00 1.80 424.9 638.1)" fill="#86c1c9" opacity="0.67"/><circle r="1" transform="matrix(2.60 0.51 0.00 1.79 424.9 626.9)" fill="#86c1c9" opacity="0.61"/><circle r="1" transform="matrix(2.60 0.41 0.00 1.78 424.9 615.7)" fill="#86c1c9" opacity="0.51"/><circle r="1" transform="matrix(2.60 0.34 0.00 1.78 424.9 604.6)" fill="#86c1c9" opacity="0.42"/><circle r="1" transform="matrix(2.60 0.28 0.00 1.93 424.9 593.5)" fill="#9fd0d6" opacity="0.33"/><circle r="1" transform="matrix(2.60 0.24 0.00 2.09 424.9 581.4)" fill="#9fd0d6" opacity="0.23"/><circle r="1" transform="matrix(2.60 0.22 0.00 2.08 424.9 568.4)" fill="#9fd0d6" opacity="0.15"/><circle r="1" transform="matrix(2.60 0.21 0.00 2.08 424.9 555.4)" fill="#9fd0d6" opacity="0.09"/><circle r="1" transform="matrix(2.60 0.19 0.00 2.08 424.9 542.3)" fill="#9fd0d6" opacity="0.05"/><circle r="1" transform="matrix(2.34 0.86 0.00 1.78 442.4 643.5)" fill="#86c1c9" opacity="0.68"/><circle r="1" transform="matrix(2.34 0.69 0.00 1.73 442.4 631.2)" fill="#86c1c9" opacity="0.64"/><circle r="1" transform="matrix(2.34 0.56 0.00 1.69 442.4 619.2)" fill="#86c1c9" opacity="0.55"/><circle r="1" transform="matrix(2.34 0.46 0.00 1.68 442.4 607.5)" fill="#86c1c9" opacity="0.46"/><circle r="1" transform="matrix(2.34 0.37 0.00 1.79 442.4 595.8)" fill="#9fd0d6" opacity="0.36"/><circle r="1" transform="matrix(2.34 0.31 0.00 1.91 442.4 583.4)" fill="#9fd0d6" opacity="0.26"/><circle r="1" transform="matrix(2.34 0.28 0.00 1.89 442.4 570.2)" fill="#9fd0d6" opacity="0.17"/><circle r="1" transform="matrix(2.34 0.26 0.00 1.89 442.4 557.0)" fill="#9fd0d6" opacity="0.10"/><circle r="1" transform="matrix(2.34 0.24 0.00 1.89 442.4 543.9)" fill="#9fd0d6" opacity="0.06"/><circle r="1" transform="matrix(2.34 0.22 0.00 1.75 442.4 530.8)" fill="#9fd0d6" opacity="0.04"/><circle r="1" transform="matrix(2.34 1.04 0.00 1.98 459.7 650.6)" fill="#86c1c9" opacity="0.69"/><circle r="1" transform="matrix(2.34 0.84 0.00 1.88 459.7 636.9)" fill="#86c1c9" opacity="0.67"/><circle r="1" transform="matrix(2.34 0.67 0.00 1.81 459.7 623.8)" fill="#86c1c9" opacity="0.59"/><circle r="1" transform="matrix(2.34 0.55 0.00 1.78 459.7 611.2)" fill="#86c1c9" opacity="0.50"/><circle r="1" transform="matrix(2.34 0.44 0.00 1.86 459.7 598.9)" fill="#9fd0d6" opacity="0.39"/><circle r="1" transform="matrix(2.34 0.36 0.00 1.95 459.7 585.9)" fill="#9fd0d6" opacity="0.29"/><circle r="1" transform="matrix(2.34 0.32 0.00 1.91 459.7 572.4)" fill="#9fd0d6" opacity="0.19"/><circle r="1" transform="matrix(2.34 0.30 0.00 1.91 459.7 559.2)" fill="#9fd0d6" opacity="0.12"/><circle r="1" transform="matrix(2.34 0.28 0.00 1.91 459.7 545.9)" fill="#9fd0d6" opacity="0.08"/><circle r="1" transform="matrix(2.34 0.26 0.00 1.77 459.7 532.6)" fill="#9fd0d6" opacity="0.05"/><circle r="1" transform="matrix(2.34 0.23 0.00 1.63 459.7 520.3)" fill="#9fd0d6" opacity="0.04"/><circle r="1" transform="matrix(2.34 0.21 0.00 1.63 459.7 509.0)" fill="#9fd0d6" opacity="0.04"/><circle r="1" transform="matrix(2.34 0.91 0.00 2.06 476.8 643.3)" fill="#86c1c9" opacity="0.69"/><circle r="1" transform="matrix(2.34 0.73 0.00 1.95 476.8 629.0)" fill="#86c1c9" opacity="0.63"/><circle r="1" transform="matrix(2.34 0.59 0.00 1.91 476.8 615.4)" fill="#86c1c9" opacity="0.54"/><circle r="1" transform="matrix(2.34 0.47 0.00 1.94 476.8 602.2)" fill="#86c1c9" opacity="0.44"/><circle r="1" transform="matrix(2.34 0.38 0.00 1.99 476.8 588.7)" fill="#9fd0d6" opacity="0.33"/><circle r="1" transform="matrix(2.34 0.34 0.00 1.93 476.8 574.9)" fill="#9fd0d6" opacity="0.23"/><circle r="1" transform="matrix(2.34 0.32 0.00 1.94 476.8 561.4)" fill="#9fd0d6" opacity="0.15"/><circle r="1" transform="matrix(2.34 0.29 0.00 1.94 476.8 548.0)" fill="#9fd0d6" opacity="0.10"/><circle r="1" transform="matrix(2.34 0.27 0.00 1.80 476.8 534.5)" fill="#9fd0d6" opacity="0.07"/><circle r="1" transform="matrix(2.34 0.24 0.00 1.65 476.8 522.0)" fill="#9fd0d6" opacity="0.06"/><circle r="1" transform="matrix(2.34 0.21 0.00 1.65 476.8 510.5)" fill="#9fd0d6" opacity="0.05"/><circle r="1" transform="matrix(2.34 0.90 0.00 2.25 493.5 649.8)" fill="#86c1c9" opacity="0.70"/><circle r="1" transform="matrix(2.34 0.72 0.00 2.09 493.5 634.2)" fill="#86c1c9" opacity="0.67"/><circle r="1" transform="matrix(2.34 0.58 0.00 2.04 493.5 619.7)" fill="#86c1c9" opacity="0.59"/><circle r="1" transform="matrix(2.34 0.45 0.00 2.03 493.5 605.5)" fill="#86c1c9" opacity="0.48"/><circle r="1" transform="matrix(2.34 0.36 0.00 2.04 493.5 591.4)" fill="#9fd0d6" opacity="0.37"/><circle r="1" transform="matrix(2.34 0.32 0.00 1.96 493.5 577.2)" fill="#9fd0d6" opacity="0.27"/><circle r="1" transform="matrix(2.34 0.30 0.00 1.97 493.5 563.7)" fill="#9fd0d6" opacity="0.19"/><circle r="1" transform="matrix(2.34 0.27 0.00 1.97 493.5 550.0)" fill="#9fd0d6" opacity="0.13"/><circle r="1" transform="matrix(2.34 0.25 0.00 1.82 493.5 536.4)" fill="#9fd0d6" opacity="0.10"/><circle r="1" transform="matrix(2.34 0.23 0.00 1.68 493.5 523.7)" fill="#9fd0d6" opacity="0.08"/><circle r="1" transform="matrix(2.34 0.20 0.00 1.68 493.5 512.0)" fill="#9fd0d6" opacity="0.07"/><circle r="1" transform="matrix(2.33 0.65 0.00 2.23 510.0 639.0)" fill="#86c1c9" opacity="0.69"/><circle r="1" transform="matrix(2.33 0.51 0.00 2.17 510.0 623.5)" fill="#86c1c9" opacity="0.63"/><circle r="1" transform="matrix(2.33 0.39 0.00 2.12 510.0 608.5)" fill="#86c1c9" opacity="0.53"/><circle r="1" transform="matrix(2.33 0.31 0.00 2.08 510.0 593.8)" fill="#9fd0d6" opacity="0.42"/><circle r="1" transform="matrix(2.33 0.27 0.00 1.98 510.0 579.4)" fill="#9fd0d6" opacity="0.32"/><circle r="1" transform="matrix(2.33 0.25 0.00 1.99 510.0 565.6)" fill="#9fd0d6" opacity="0.23"/><circle r="1" transform="matrix(2.33 0.23 0.00 1.99 510.0 551.8)" fill="#9fd0d6" opacity="0.17"/><circle r="1" transform="matrix(2.33 0.21 0.00 1.85 510.0 538.0)" fill="#9fd0d6" opacity="0.13"/><circle r="1" transform="matrix(2.33 0.19 0.00 1.70 510.0 525.2)" fill="#9fd0d6" opacity="0.10"/><circle r="1" transform="matrix(2.33 0.17 0.00 1.70 510.0 513.3)" fill="#9fd0d6" opacity="0.09"/><circle r="1" transform="matrix(2.33 0.15 0.00 1.70 510.0 501.5)" fill="#9fd0d6" opacity="0.06"/><circle r="1" transform="matrix(2.33 0.13 0.00 1.70 510.0 489.7)" fill="#9fd0d6" opacity="0.05"/><circle r="1" transform="matrix(2.29 0.52 0.00 2.37 526.2 643.1)" fill="#86c1c9" opacity="0.71"/><circle r="1" transform="matrix(2.29 0.39 0.00 2.28 526.2 626.7)" fill="#86c1c9" opacity="0.66"/><circle r="1" transform="matrix(2.29 0.29 0.00 2.19 526.2 610.9)" fill="#86c1c9" opacity="0.56"/><circle r="1" transform="matrix(2.29 0.22 0.00 2.11 526.2 595.7)" fill="#9fd0d6" opacity="0.46"/><circle r="1" transform="matrix(2.29 0.19 0.00 1.99 526.2 581.0)" fill="#9fd0d6" opacity="0.36"/><circle r="1" transform="matrix(2.29 0.18 0.00 2.01 526.2 567.1)" fill="#9fd0d6" opacity="0.27"/><circle r="1" transform="matrix(2.29 0.16 0.00 2.01 526.2 553.2)" fill="#9fd0d6" opacity="0.21"/><circle r="1" transform="matrix(2.29 0.15 0.00 1.86 526.2 539.3)" fill="#9fd0d6" opacity="0.16"/><circle r="1" transform="matrix(2.29 0.13 0.00 1.72 526.2 526.3)" fill="#9fd0d6" opacity="0.13"/><circle r="1" transform="matrix(2.29 0.12 0.00 1.72 526.2 514.4)" fill="#9fd0d6" opacity="0.12"/><circle r="1" transform="matrix(2.29 0.11 0.00 1.72 526.2 502.4)" fill="#9fd0d6" opacity="0.08"/><circle r="1" transform="matrix(2.29 0.09 0.00 1.72 526.2 490.5)" fill="#9fd0d6" opacity="0.07"/><circle r="1" transform="matrix(2.29 0.08 0.00 1.72 526.2 478.5)" fill="#9fd0d6" opacity="0.05"/><circle r="1" transform="matrix(2.24 0.34 0.00 2.48 542.1 646.2)" fill="#86c1c9" opacity="0.72"/><circle r="1" transform="matrix(2.24 0.24 0.00 2.37 542.1 629.0)" fill="#86c1c9" opacity="0.68"/><circle r="1" transform="matrix(2.24 0.16 0.00 2.25 542.1 612.5)" fill="#86c1c9" opacity="0.59"/><circle r="1" transform="matrix(2.24 0.11 0.00 2.14 542.1 596.9)" fill="#9fd0d6" opacity="0.49"/><circle r="1" transform="matrix(2.24 0.09 0.00 2.01 542.1 582.0)" fill="#9fd0d6" opacity="0.39"/><circle r="1" transform="matrix(2.24 0.08 0.00 2.02 542.1 568.1)" fill="#9fd0d6" opacity="0.31"/><circle r="1" transform="matrix(2.24 0.07 0.00 2.02 542.1 554.0)" fill="#9fd0d6" opacity="0.24"/><circle r="1" transform="matrix(2.24 0.07 0.00 1.87 542.1 540.0)" fill="#9fd0d6" opacity="0.19"/><circle r="1" transform="matrix(2.24 0.06 0.00 1.73 542.1 527.0)" fill="#9fd0d6" opacity="0.15"/><circle r="1" transform="matrix(2.24 0.06 0.00 1.73 542.1 515.0)" fill="#9fd0d6" opacity="0.14"/><circle r="1" transform="matrix(2.24 0.05 0.00 1.73 542.1 503.0)" fill="#9fd0d6" opacity="0.11"/><circle r="1" transform="matrix(2.24 0.04 0.00 1.73 542.1 491.0)" fill="#9fd0d6" opacity="0.10"/><circle r="1" transform="matrix(2.24 0.04 0.00 1.73 542.1 478.9)" fill="#9fd0d6" opacity="0.07"/><circle r="1" transform="matrix(2.20 0.12 0.00 2.56 557.7 647.8)" fill="#86c1c9" opacity="0.73"/><circle r="1" transform="matrix(2.20 0.05 0.00 2.43 557.7 630.0)" fill="#86c1c9" opacity="0.69"/><circle r="1" transform="matrix(2.20 0.01 0.00 2.29 557.7 613.1)" fill="#86c1c9" opacity="0.61"/><circle r="1" transform="matrix(2.20 -0.02 0.00 2.16 557.7 597.2)" fill="#9fd0d6" opacity="0.52"/><circle r="1" transform="matrix(2.20 -0.03 0.00 2.02 557.7 582.2)" fill="#9fd0d6" opacity="0.42"/><circle r="1" transform="matrix(2.20 -0.04 0.00 2.02 557.7 568.2)" fill="#9fd0d6" opacity="0.34"/><circle r="1" transform="matrix(2.20 -0.03 0.00 2.02 557.7 554.2)" fill="#9fd0d6" opacity="0.27"/><circle r="1" transform="matrix(2.20 -0.03 0.00 1.88 557.7 540.2)" fill="#9fd0d6" opacity="0.21"/><circle r="1" transform="matrix(2.20 -0.02 0.00 1.73 557.7 527.2)" fill="#9fd0d6" opacity="0.18"/><circle r="1" transform="matrix(2.20 -0.02 0.00 1.73 557.7 515.1)" fill="#9fd0d6" opacity="0.16"/><circle r="1" transform="matrix(2.20 -0.01 0.00 1.73 557.7 503.1)" fill="#9fd0d6" opacity="0.13"/><circle r="1" transform="matrix(2.20 -0.01 0.00 1.73 557.7 491.1)" fill="#9fd0d6" opacity="0.12"/><circle r="1" transform="matrix(2.20 -0.01 0.00 1.73 557.7 479.1)" fill="#9fd0d6" opacity="0.08"/><circle r="1" transform="matrix(2.15 -0.32 0.00 2.61 572.9 647.4)" fill="#86c1c9" opacity="0.74"/><circle r="1" transform="matrix(2.15 -0.33 0.00 2.45 572.9 629.3)" fill="#86c1c9" opacity="0.70"/><circle r="1" transform="matrix(2.15 -0.31 0.00 2.30 572.9 612.3)" fill="#86c1c9" opacity="0.62"/><circle r="1" transform="matrix(2.15 -0.29 0.00 2.15 572.9 596.3)" fill="#9fd0d6" opacity="0.53"/><circle r="1" transform="matrix(2.15 -0.27 0.00 2.01 572.9 581.3)" fill="#9fd0d6" opacity="0.44"/><circle r="1" transform="matrix(2.15 -0.26 0.00 2.00 572.9 567.3)" fill="#9fd0d6" opacity="0.36"/><circle r="1" transform="matrix(2.15 -0.23 0.00 2.00 572.9 553.4)" fill="#9fd0d6" opacity="0.29"/><circle r="1" transform="matrix(2.15 -0.19 0.00 1.86 572.9 539.5)" fill="#9fd0d6" opacity="0.23"/><circle r="1" transform="matrix(2.15 -0.16 0.00 1.72 572.9 526.6)" fill="#9fd0d6" opacity="0.20"/><circle r="1" transform="matrix(2.15 -0.13 0.00 1.72 572.9 514.7)" fill="#9fd0d6" opacity="0.17"/><circle r="1" transform="matrix(2.15 -0.10 0.00 1.72 572.9 502.7)" fill="#9fd0d6" opacity="0.15"/><circle r="1" transform="matrix(2.15 -0.07 0.00 1.72 572.9 490.8)" fill="#9fd0d6" opacity="0.13"/><circle r="1" transform="matrix(2.15 -0.04 0.00 1.72 572.9 478.9)" fill="#9fd0d6" opacity="0.09"/><circle r="1" transform="matrix(2.12 -0.77 0.00 2.60 587.9 643.5)" fill="#86c1c9" opacity="0.74"/><circle r="1" transform="matrix(2.12 -0.73 0.00 2.39 587.9 625.5)" fill="#86c1c9" opacity="0.69"/><circle r="1" transform="matrix(2.12 -0.64 0.00 2.26 587.9 608.9)" fill="#86c1c9" opacity="0.62"/><circle r="1" transform="matrix(2.12 -0.58 0.00 2.12 587.9 593.2)" fill="#9fd0d6" opacity="0.53"/><circle r="1" transform="matrix(2.12 -0.53 0.00 1.99 587.9 578.5)" fill="#9fd0d6" opacity="0.45"/><circle r="1" transform="matrix(2.12 -0.50 0.00 1.96 587.9 564.7)" fill="#9fd0d6" opacity="0.37"/><circle r="1" transform="matrix(2.12 -0.44 0.00 1.96 587.9 551.1)" fill="#9fd0d6" opacity="0.30"/><circle r="1" transform="matrix(2.12 -0.38 0.00 1.81 587.9 537.5)" fill="#9fd0d6" opacity="0.25"/><circle r="1" transform="matrix(2.12 -0.32 0.00 1.67 587.9 524.9)" fill="#9fd0d6" opacity="0.21"/><circle r="1" transform="matrix(2.12 -0.26 0.00 1.67 587.9 513.3)" fill="#9fd0d6" opacity="0.19"/><circle r="1" transform="matrix(2.12 -0.20 0.00 1.67 587.9 501.7)" fill="#9fd0d6" opacity="0.16"/><circle r="1" transform="matrix(2.12 -0.14 0.00 1.67 587.9 490.1)" fill="#9fd0d6" opacity="0.14"/><circle r="1" transform="matrix(2.12 -0.08 0.00 1.67 587.9 478.5)" fill="#9fd0d6" opacity="0.09"/><circle r="1" transform="matrix(2.08 -1.03 0.00 2.54 602.6 637.1)" fill="#86c1c9" opacity="0.73"/><circle r="1" transform="matrix(2.08 -0.96 0.00 2.28 602.6 619.5)" fill="#86c1c9" opacity="0.68"/><circle r="1" transform="matrix(2.08 -0.84 0.00 2.18 602.6 603.6)" fill="#86c1c9" opacity="0.60"/><circle r="1" transform="matrix(2.08 -0.76 0.00 2.06 602.6 588.4)" fill="#9fd0d6" opacity="0.52"/><circle r="1" transform="matrix(2.08 -0.70 0.00 1.96 602.6 574.1)" fill="#9fd0d6" opacity="0.44"/><circle r="1" transform="matrix(2.08 -0.66 0.00 1.89 602.6 560.6)" fill="#9fd0d6" opacity="0.36"/><circle r="1" transform="matrix(2.08 -0.59 0.00 1.89 602.6 547.4)" fill="#9fd0d6" opacity="0.30"/><circle r="1" transform="matrix(2.08 -0.52 0.00 1.75 602.6 534.3)" fill="#9fd0d6" opacity="0.25"/><circle r="1" transform="matrix(2.08 -0.45 0.00 1.60 602.6 522.2)" fill="#9fd0d6" opacity="0.21"/><circle r="1" transform="matrix(2.08 -0.38 0.00 1.60 602.6 511.0)" fill="#9fd0d6" opacity="0.20"/><circle r="1" transform="matrix(2.08 -0.31 0.00 1.60 602.6 499.9)" fill="#9fd0d6" opacity="0.16"/><circle r="1" transform="matrix(2.08 -0.24 0.00 1.60 602.6 488.8)" fill="#9fd0d6" opacity="0.14"/><circle r="1" transform="matrix(2.08 -0.17 0.00 1.60 602.6 477.7)" fill="#9fd0d6" opacity="0.09"/><circle r="1" transform="matrix(2.07 -1.24 0.00 2.63 617.1 647.7)" fill="#86c1c9" opacity="0.75"/><circle r="1" transform="matrix(2.07 -1.12 0.00 2.47 617.1 629.5)" fill="#86c1c9" opacity="0.72"/><circle r="1" transform="matrix(2.07 -1.05 0.00 2.16 617.1 612.3)" fill="#86c1c9" opacity="0.65"/><circle r="1" transform="matrix(2.07 -0.94 0.00 2.10 617.1 597.3)" fill="#9fd0d6" opacity="0.58"/><circle r="1" transform="matrix(2.07 -0.85 0.00 1.99 617.1 582.7)" fill="#9fd0d6" opacity="0.50"/><circle r="1" transform="matrix(2.07 -0.79 0.00 1.92 617.1 568.9)" fill="#9fd0d6" opacity="0.42"/><circle r="1" transform="matrix(2.07 -0.76 0.00 1.82 617.1 555.6)" fill="#9fd0d6" opacity="0.35"/><circle r="1" transform="matrix(2.07 -0.69 0.00 1.82 617.1 542.9)" fill="#9fd0d6" opacity="0.29"/><circle r="1" transform="matrix(2.07 -0.62 0.00 1.68 617.1 530.3)" fill="#9fd0d6" opacity="0.24"/><circle r="1" transform="matrix(2.07 -0.56 0.00 1.53 617.1 518.7)" fill="#9fd0d6" opacity="0.21"/><circle r="1" transform="matrix(2.07 -0.49 0.00 1.53 617.1 508.0)" fill="#9fd0d6" opacity="0.20"/><circle r="1" transform="matrix(2.07 -0.42 0.00 1.53 617.1 497.4)" fill="#9fd0d6" opacity="0.16"/><circle r="1" transform="matrix(2.07 -0.35 0.00 1.53 617.1 486.7)" fill="#9fd0d6" opacity="0.13"/><circle r="1" transform="matrix(2.07 -0.29 0.00 1.53 617.1 476.1)" fill="#9fd0d6" opacity="0.09"/><circle r="1" transform="matrix(2.06 -1.15 0.00 2.52 631.4 639.3)" fill="#86c1c9" opacity="0.74"/><circle r="1" transform="matrix(2.06 -1.06 0.00 2.41 631.4 621.8)" fill="#86c1c9" opacity="0.69"/><circle r="1" transform="matrix(2.06 -1.01 0.00 2.06 631.4 605.1)" fill="#86c1c9" opacity="0.62"/><circle r="1" transform="matrix(2.06 -0.92 0.00 2.03 631.4 590.8)" fill="#9fd0d6" opacity="0.55"/><circle r="1" transform="matrix(2.06 -0.86 0.00 1.93 631.4 576.7)" fill="#9fd0d6" opacity="0.47"/><circle r="1" transform="matrix(2.06 -0.82 0.00 1.89 631.4 563.3)" fill="#9fd0d6" opacity="0.39"/><circle r="1" transform="matrix(2.06 -0.79 0.00 1.76 631.4 550.2)" fill="#9fd0d6" opacity="0.33"/><circle r="1" transform="matrix(2.06 -0.74 0.00 1.76 631.4 537.9)" fill="#9fd0d6" opacity="0.27"/><circle r="1" transform="matrix(2.06 -0.69 0.00 1.62 631.4 525.7)" fill="#9fd0d6" opacity="0.23"/><circle r="1" transform="matrix(2.06 -0.64 0.00 1.47 631.4 514.5)" fill="#9fd0d6" opacity="0.21"/><circle r="1" transform="matrix(2.06 -0.60 0.00 1.47 631.4 504.3)" fill="#9fd0d6" opacity="0.16"/><circle r="1" transform="matrix(2.06 -0.55 0.00 1.47 631.4 494.0)" fill="#9fd0d6" opacity="0.15"/><circle r="1" transform="matrix(2.06 -0.50 0.00 1.47 631.4 483.8)" fill="#9fd0d6" opacity="0.12"/><circle r="1" transform="matrix(2.06 -0.45 0.00 1.47 631.4 473.6)" fill="#9fd0d6" opacity="0.07"/><circle r="1" transform="matrix(2.06 -0.93 0.00 2.47 645.7 649.4)" fill="#86c1c9" opacity="0.75"/><circle r="1" transform="matrix(2.06 -0.89 0.00 2.46 645.7 632.2)" fill="#86c1c9" opacity="0.73"/><circle r="1" transform="matrix(2.06 -0.86 0.00 2.38 645.7 615.1)" fill="#86c1c9" opacity="0.67"/><circle r="1" transform="matrix(2.06 -0.85 0.00 2.00 645.7 598.6)" fill="#9fd0d6" opacity="0.59"/><circle r="1" transform="matrix(2.06 -0.82 0.00 1.99 645.7 584.7)" fill="#9fd0d6" opacity="0.51"/><circle r="1" transform="matrix(2.06 -0.80 0.00 1.90 645.7 570.9)" fill="#9fd0d6" opacity="0.43"/><circle r="1" transform="matrix(2.06 -0.78 0.00 1.87 645.7 557.7)" fill="#9fd0d6" opacity="0.36"/><circle r="1" transform="matrix(2.06 -0.77 0.00 1.73 645.7 544.7)" fill="#9fd0d6" opacity="0.30"/><circle r="1" transform="matrix(2.06 -0.75 0.00 1.73 645.7 532.7)" fill="#9fd0d6" opacity="0.25"/><circle r="1" transform="matrix(2.06 -0.73 0.00 1.58 645.7 520.7)" fill="#9fd0d6" opacity="0.22"/><circle r="1" transform="matrix(2.06 -0.71 0.00 1.44 645.7 509.8)" fill="#9fd0d6" opacity="0.20"/><circle r="1" transform="matrix(2.06 -0.70 0.00 1.44 645.7 499.8)" fill="#9fd0d6" opacity="0.16"/><circle r="1" transform="matrix(2.06 -0.68 0.00 1.44 645.7 489.8)" fill="#9fd0d6" opacity="0.14"/><circle r="1" transform="matrix(2.06 -0.66 0.00 1.44 645.7 479.8)" fill="#9fd0d6" opacity="0.10"/><circle r="1" transform="matrix(2.06 -0.64 0.00 1.44 645.7 469.8)" fill="#9fd0d6" opacity="0.06"/><circle r="1" transform="matrix(2.05 -0.90 0.00 2.44 660.0 643.0)" fill="#86c1c9" opacity="0.75"/><circle r="1" transform="matrix(2.05 -0.88 0.00 2.44 660.0 626.1)" fill="#86c1c9" opacity="0.71"/><circle r="1" transform="matrix(2.05 -0.86 0.00 2.36 660.0 609.1)" fill="#86c1c9" opacity="0.64"/><circle r="1" transform="matrix(2.05 -0.85 0.00 1.98 660.0 592.7)" fill="#9fd0d6" opacity="0.56"/><circle r="1" transform="matrix(2.05 -0.84 0.00 1.97 660.0 579.0)" fill="#9fd0d6" opacity="0.48"/><circle r="1" transform="matrix(2.05 -0.83 0.00 1.88 660.0 565.3)" fill="#9fd0d6" opacity="0.40"/><circle r="1" transform="matrix(2.05 -0.81 0.00 1.86 660.0 552.2)" fill="#9fd0d6" opacity="0.34"/><circle r="1" transform="matrix(2.05 -0.81 0.00 1.71 660.0 539.2)" fill="#9fd0d6" opacity="0.28"/><circle r="1" transform="matrix(2.05 -0.80 0.00 1.71 660.0 527.3)" fill="#9fd0d6" opacity="0.24"/><circle r="1" transform="matrix(2.05 -0.78 0.00 1.57 660.0 515.5)" fill="#9fd0d6" opacity="0.21"/><circle r="1" transform="matrix(2.05 -0.77 0.00 1.42 660.0 504.6)" fill="#9fd0d6" opacity="0.16"/><circle r="1" transform="matrix(2.05 -0.76 0.00 1.42 660.0 494.7)" fill="#9fd0d6" opacity="0.15"/><circle r="1" transform="matrix(2.05 -0.75 0.00 1.42 660.0 484.8)" fill="#9fd0d6" opacity="0.12"/><circle r="1" transform="matrix(2.05 -0.74 0.00 1.42 660.0 474.9)" fill="#9fd0d6" opacity="0.08"/><circle r="1" transform="matrix(2.03 -0.89 0.00 2.28 674.3 652.6)" fill="#86c1c9" opacity="0.75"/><circle r="1" transform="matrix(2.03 -0.88 0.00 2.42 674.3 636.8)" fill="#86c1c9" opacity="0.74"/><circle r="1" transform="matrix(2.03 -0.86 0.00 2.43 674.3 620.0)" fill="#86c1c9" opacity="0.69"/><circle r="1" transform="matrix(2.03 -0.86 0.00 2.36 674.3 603.1)" fill="#86c1c9" opacity="0.61"/><circle r="1" transform="matrix(2.03 -0.85 0.00 1.97 674.3 586.8)" fill="#9fd0d6" opacity="0.52"/><circle r="1" transform="matrix(2.03 -0.85 0.00 1.97 674.3 573.1)" fill="#9fd0d6" opacity="0.45"/><circle r="1" transform="matrix(2.03 -0.84 0.00 1.87 674.3 559.5)" fill="#9fd0d6" opacity="0.37"/><circle r="1" transform="matrix(2.03 -0.83 0.00 1.86 674.3 546.4)" fill="#9fd0d6" opacity="0.31"/><circle r="1" transform="matrix(2.03 -0.83 0.00 1.70 674.3 533.5)" fill="#9fd0d6" opacity="0.26"/><circle r="1" transform="matrix(2.03 -0.83 0.00 1.70 674.3 521.7)" fill="#9fd0d6" opacity="0.22"/><circle r="1" transform="matrix(2.03 -0.82 0.00 1.56 674.3 509.9)" fill="#9fd0d6" opacity="0.20"/><circle r="1" transform="matrix(2.03 -0.82 0.00 1.42 674.3 499.0)" fill="#9fd0d6" opacity="0.16"/><circle r="1" transform="matrix(2.03 -0.81 0.00 1.42 674.3 489.2)" fill="#9fd0d6" opacity="0.14"/><circle r="1" transform="matrix(2.03 -0.81 0.00 1.42 674.3 479.4)" fill="#9fd0d6" opacity="0.10"/><circle r="1" transform="matrix(2.03 -0.80 0.00 1.42 674.3 469.5)" fill="#9fd0d6" opacity="0.05"/><circle r="1" transform="matrix(1.99 -0.85 0.00 2.27 688.4 646.5)" fill="#86c1c9" opacity="0.75"/><circle r="1" transform="matrix(1.99 -0.85 0.00 2.41 688.4 630.7)" fill="#86c1c9" opacity="0.72"/><circle r="1" transform="matrix(1.99 -0.85 0.00 2.42 688.4 614.0)" fill="#86c1c9" opacity="0.66"/><circle r="1" transform="matrix(1.99 -0.84 0.00 2.35 688.4 597.2)" fill="#9fd0d6" opacity="0.58"/><circle r="1" transform="matrix(1.99 -0.84 0.00 1.96 688.4 580.8)" fill="#9fd0d6" opacity="0.49"/><circle r="1" transform="matrix(1.99 -0.84 0.00 1.97 688.4 567.2)" fill="#9fd0d6" opacity="0.41"/><circle r="1" transform="matrix(1.99 -0.84 0.00 1.87 688.4 553.5)" fill="#9fd0d6" opacity="0.34"/><circle r="1" transform="matrix(1.99 -0.84 0.00 1.86 688.4 540.6)" fill="#9fd0d6" opacity="0.28"/><circle r="1" transform="matrix(1.99 -0.84 0.00 1.70 688.4 527.7)" fill="#9fd0d6" opacity="0.24"/><circle r="1" transform="matrix(1.99 -0.84 0.00 1.70 688.4 515.8)" fill="#9fd0d6" opacity="0.21"/><circle r="1" transform="matrix(1.99 -0.84 0.00 1.56 688.4 504.0)" fill="#9fd0d6" opacity="0.16"/><circle r="1" transform="matrix(1.99 -0.84 0.00 1.41 688.4 493.2)" fill="#9fd0d6" opacity="0.15"/><circle r="1" transform="matrix(1.99 -0.84 0.00 1.41 688.4 483.4)" fill="#9fd0d6" opacity="0.12"/><circle r="1" transform="matrix(1.99 -0.84 0.00 1.41 688.4 473.6)" fill="#9fd0d6" opacity="0.07"/><circle r="1" transform="matrix(1.93 -0.80 0.00 2.27 702.2 640.7)" fill="#86c1c9" opacity="0.74"/><circle r="1" transform="matrix(1.93 -0.81 0.00 2.41 702.2 624.9)" fill="#86c1c9" opacity="0.71"/><circle r="1" transform="matrix(1.93 -0.82 0.00 2.43 702.2 608.1)" fill="#86c1c9" opacity="0.64"/><circle r="1" transform="matrix(1.93 -0.82 0.00 2.35 702.2 591.3)" fill="#9fd0d6" opacity="0.55"/><circle r="1" transform="matrix(1.93 -0.82 0.00 1.97 702.2 575.0)" fill="#9fd0d6" opacity="0.46"/><circle r="1" transform="matrix(1.93 -0.83 0.00 1.97 702.2 561.3)" fill="#9fd0d6" opacity="0.38"/><circle r="1" transform="matrix(1.93 -0.83 0.00 1.87 702.2 547.6)" fill="#9fd0d6" opacity="0.31"/><circle r="1" transform="matrix(1.93 -0.83 0.00 1.86 702.2 534.7)" fill="#9fd0d6" opacity="0.26"/><circle r="1" transform="matrix(1.93 -0.83 0.00 1.70 702.2 521.7)" fill="#9fd0d6" opacity="0.22"/><circle r="1" transform="matrix(1.93 -0.83 0.00 1.70 702.2 509.9)" fill="#9fd0d6" opacity="0.20"/><circle r="1" transform="matrix(1.93 -0.84 0.00 1.56 702.2 498.1)" fill="#9fd0d6" opacity="0.16"/><circle r="1" transform="matrix(1.93 -0.84 0.00 1.41 702.2 487.3)" fill="#9fd0d6" opacity="0.13"/><circle r="1" transform="matrix(1.93 -0.84 0.00 1.41 702.2 477.5)" fill="#9fd0d6" opacity="0.09"/><circle r="1" transform="matrix(1.93 -0.84 0.00 1.41 702.2 467.6)" fill="#9fd0d6" opacity="0.05"/><circle r="1" transform="matrix(1.81 -0.73 0.00 2.54 715.6 652.8)" fill="#86c1c9" opacity="0.75"/><circle r="1" transform="matrix(1.81 -0.74 0.00 2.28 715.6 635.2)" fill="#86c1c9" opacity="0.73"/><circle r="1" transform="matrix(1.81 -0.75 0.00 2.42 715.6 619.3)" fill="#86c1c9" opacity="0.68"/><circle r="1" transform="matrix(1.81 -0.76 0.00 2.43 715.6 602.5)" fill="#86c1c9" opacity="0.61"/><circle r="1" transform="matrix(1.81 -0.77 0.00 2.35 715.6 585.6)" fill="#9fd0d6" opacity="0.52"/><circle r="1" transform="matrix(1.81 -0.77 0.00 1.97 715.6 569.3)" fill="#9fd0d6" opacity="0.42"/><circle r="1" transform="matrix(1.81 -0.78 0.00 1.98 715.6 555.5)" fill="#9fd0d6" opacity="0.35"/><circle r="1" transform="matrix(1.81 -0.79 0.00 1.87 715.6 541.8)" fill="#9fd0d6" opacity="0.29"/><circle r="1" transform="matrix(1.81 -0.79 0.00 1.86 715.6 528.8)" fill="#9fd0d6" opacity="0.24"/><circle r="1" transform="matrix(1.81 -0.79 0.00 1.71 715.6 515.9)" fill="#9fd0d6" opacity="0.21"/><circle r="1" transform="matrix(1.81 -0.80 0.00 1.71 715.6 504.1)" fill="#9fd0d6" opacity="0.16"/><circle r="1" transform="matrix(1.81 -0.80 0.00 1.56 715.6 492.2)" fill="#9fd0d6" opacity="0.15"/><circle r="1" transform="matrix(1.81 -0.81 0.00 1.42 715.6 481.4)" fill="#9fd0d6" opacity="0.11"/><circle r="1" transform="matrix(1.81 -0.81 0.00 1.42 715.6 471.5)" fill="#9fd0d6" opacity="0.06"/><circle r="1" transform="matrix(1.65 -0.66 0.00 2.55 728.2 647.7)" fill="#86c1c9" opacity="0.75"/><circle r="1" transform="matrix(1.65 -0.67 0.00 2.30 728.2 630.0)" fill="#86c1c9" opacity="0.72"/><circle r="1" transform="matrix(1.65 -0.68 0.00 2.44 728.2 614.1)" fill="#86c1c9" opacity="0.66"/><circle r="1" transform="matrix(1.65 -0.69 0.00 2.44 728.2 597.2)" fill="#9fd0d6" opacity="0.58"/><circle r="1" transform="matrix(1.65 -0.70 0.00 2.35 728.2 580.2)" fill="#9fd0d6" opacity="0.49"/><circle r="1" transform="matrix(1.65 -0.70 0.00 1.98 728.2 563.9)" fill="#9fd0d6" opacity="0.40"/><circle r="1" transform="matrix(1.65 -0.71 0.00 1.98 728.2 550.1)" fill="#9fd0d6" opacity="0.33"/><circle r="1" transform="matrix(1.65 -0.72 0.00 1.87 728.2 536.3)" fill="#9fd0d6" opacity="0.27"/><circle r="1" transform="matrix(1.65 -0.72 0.00 1.86 728.2 523.3)" fill="#9fd0d6" opacity="0.23"/><circle r="1" transform="matrix(1.65 -0.73 0.00 1.71 728.2 510.4)" fill="#9fd0d6" opacity="0.20"/><circle r="1" transform="matrix(1.65 -0.73 0.00 1.71 728.2 498.5)" fill="#9fd0d6" opacity="0.16"/><circle r="1" transform="matrix(1.65 -0.74 0.00 1.57 728.2 486.6)" fill="#9fd0d6" opacity="0.13"/><circle r="1" transform="matrix(1.65 -0.74 0.00 1.42 728.2 475.8)" fill="#9fd0d6" opacity="0.08"/><circle r="1" transform="matrix(1.47 -0.58 0.00 2.56 739.7 643.2)" fill="#86c1c9" opacity="0.75"/><circle r="1" transform="matrix(1.47 -0.60 0.00 2.31 739.7 625.4)" fill="#86c1c9" opacity="0.71"/><circle r="1" transform="matrix(1.47 -0.61 0.00 2.45 739.7 609.3)" fill="#86c1c9" opacity="0.64"/><circle r="1" transform="matrix(1.47 -0.62 0.00 2.45 739.7 592.3)" fill="#9fd0d6" opacity="0.55"/><circle r="1" transform="matrix(1.47 -0.63 0.00 2.36 739.7 575.4)" fill="#9fd0d6" opacity="0.46"/><circle r="1" transform="matrix(1.47 -0.63 0.00 1.99 739.7 559.0)" fill="#9fd0d6" opacity="0.37"/><circle r="1" transform="matrix(1.47 -0.64 0.00 1.99 739.7 545.2)" fill="#9fd0d6" opacity="0.30"/><circle r="1" transform="matrix(1.47 -0.64 0.00 1.87 739.7 531.3)" fill="#9fd0d6" opacity="0.25"/><circle r="1" transform="matrix(1.47 -0.65 0.00 1.87 739.7 518.3)" fill="#9fd0d6" opacity="0.22"/><circle r="1" transform="matrix(1.47 -0.65 0.00 1.72 739.7 505.4)" fill="#9fd0d6" opacity="0.20"/><circle r="1" transform="matrix(1.47 -0.65 0.00 1.72 739.7 493.4)" fill="#9fd0d6" opacity="0.15"/><circle r="1" transform="matrix(1.47 -0.66 0.00 1.57 739.7 481.5)" fill="#9fd0d6" opacity="0.11"/><circle r="1" transform="matrix(1.47 -0.66 0.00 1.43 739.7 470.6)" fill="#9fd0d6" opacity="0.06"/><circle r="1" transform="matrix(1.30 -0.52 0.00 2.57 749.9 639.1)" fill="#86c1c9" opacity="0.74"/><circle r="1" transform="matrix(1.30 -0.53 0.00 2.33 749.9 621.3)" fill="#86c1c9" opacity="0.69"/><circle r="1" transform="matrix(1.30 -0.54 0.00 2.46 749.9 605.1)" fill="#86c1c9" opacity="0.62"/><circle r="1" transform="matrix(1.30 -0.55 0.00 2.45 749.9 588.0)" fill="#9fd0d6" opacity="0.53"/><circle r="1" transform="matrix(1.30 -0.55 0.00 2.36 749.9 571.0)" fill="#9fd0d6" opacity="0.43"/><circle r="1" transform="matrix(1.30 -0.55 0.00 2.00 749.9 554.6)" fill="#9fd0d6" opacity="0.35"/><circle r="1" transform="matrix(1.30 -0.56 0.00 2.00 749.9 540.7)" fill="#9fd0d6" opacity="0.28"/><circle r="1" transform="matrix(1.30 -0.57 0.00 1.87 749.9 526.8)" fill="#9fd0d6" opacity="0.24"/><circle r="1" transform="matrix(1.30 -0.57 0.00 1.87 749.9 513.8)" fill="#9fd0d6" opacity="0.21"/><circle r="1" transform="matrix(1.30 -0.57 0.00 1.72 749.9 500.9)" fill="#9fd0d6" opacity="0.16"/><circle r="1" transform="matrix(1.30 -0.57 0.00 1.72 749.9 488.9)" fill="#9fd0d6" opacity="0.14"/><circle r="1" transform="matrix(1.30 -0.58 0.00 1.58 749.9 477.0)" fill="#9fd0d6" opacity="0.09"/><circle r="1" transform="matrix(1.11 -0.44 0.00 2.58 758.9 653.5)" fill="#86c1c9" opacity="0.75"/><circle r="1" transform="matrix(1.11 -0.45 0.00 2.58 758.9 635.5)" fill="#86c1c9" opacity="0.73"/><circle r="1" transform="matrix(1.11 -0.45 0.00 2.33 758.9 617.6)" fill="#86c1c9" opacity="0.68"/><circle r="1" transform="matrix(1.11 -0.46 0.00 2.47 758.9 601.4)" fill="#86c1c9" opacity="0.60"/><circle r="1" transform="matrix(1.11 -0.47 0.00 2.46 758.9 584.2)" fill="#9fd0d6" opacity="0.51"/><circle r="1" transform="matrix(1.11 -0.47 0.00 2.36 758.9 567.2)" fill="#9fd0d6" opacity="0.41"/><circle r="1" transform="matrix(1.11 -0.47 0.00 2.01 758.9 550.8)" fill="#9fd0d6" opacity="0.33"/><circle r="1" transform="matrix(1.11 -0.48 0.00 2.01 758.9 536.9)" fill="#9fd0d6" opacity="0.27"/><circle r="1" transform="matrix(1.11 -0.48 0.00 1.87 758.9 522.9)" fill="#9fd0d6" opacity="0.23"/><circle r="1" transform="matrix(1.11 -0.48 0.00 1.87 758.9 509.9)" fill="#9fd0d6" opacity="0.20"/><circle r="1" transform="matrix(1.11 -0.48 0.00 1.72 758.9 496.9)" fill="#9fd0d6" opacity="0.16"/><circle r="1" transform="matrix(1.11 -0.49 0.00 1.72 758.9 485.0)" fill="#9fd0d6" opacity="0.13"/><circle r="1" transform="matrix(1.11 -0.49 0.00 1.58 758.9 473.0)" fill="#9fd0d6" opacity="0.07"/><circle r="1" transform="matrix(0.91 -0.37 0.00 2.59 766.6 650.4)" fill="#86c1c9" opacity="0.75"/><circle r="1" transform="matrix(0.91 -0.37 0.00 2.59 766.6 632.4)" fill="#86c1c9" opacity="0.73"/><circle r="1" transform="matrix(0.91 -0.38 0.00 2.34 766.6 614.4)" fill="#86c1c9" opacity="0.66"/><circle r="1" transform="matrix(0.91 -0.38 0.00 2.47 766.6 598.2)" fill="#9fd0d6" opacity="0.59"/><circle r="1" transform="matrix(0.91 -0.38 0.00 2.46 766.6 581.0)" fill="#9fd0d6" opacity="0.49"/><circle r="1" transform="matrix(0.91 -0.39 0.00 2.36 766.6 563.9)" fill="#9fd0d6" opacity="0.40"/><circle r="1" transform="matrix(0.91 -0.39 0.00 2.01 766.6 547.5)" fill="#9fd0d6" opacity="0.31"/><circle r="1" transform="matrix(0.91 -0.39 0.00 2.01 766.6 533.5)" fill="#9fd0d6" opacity="0.26"/><circle r="1" transform="matrix(0.91 -0.39 0.00 1.87 766.6 519.6)" fill="#9fd0d6" opacity="0.22"/><circle r="1" transform="matrix(0.91 -0.39 0.00 1.87 766.6 506.6)" fill="#9fd0d6" opacity="0.20"/><circle r="1" transform="matrix(0.91 -0.39 0.00 1.73 766.6 493.6)" fill="#9fd0d6" opacity="0.15"/><circle r="1" transform="matrix(0.91 -0.40 0.00 1.73 766.6 481.6)" fill="#9fd0d6" opacity="0.11"/><circle r="1" transform="matrix(0.91 -0.40 0.00 1.58 766.6 469.6)" fill="#9fd0d6" opacity="0.05"/><circle r="1" transform="matrix(0.74 -0.31 0.00 2.59 773.0 647.8)" fill="#86c1c9" opacity="0.75"/><circle r="1" transform="matrix(0.74 -0.31 0.00 2.59 773.0 629.8)" fill="#86c1c9" opacity="0.72"/><circle r="1" transform="matrix(0.74 -0.31 0.00 2.35 773.0 611.8)" fill="#86c1c9" opacity="0.65"/><circle r="1" transform="matrix(0.74 -0.31 0.00 2.48 773.0 595.5)" fill="#9fd0d6" opacity="0.57"/><circle r="1" transform="matrix(0.74 -0.31 0.00 2.46 773.0 578.3)" fill="#9fd0d6" opacity="0.48"/><circle r="1" transform="matrix(0.74 -0.31 0.00 2.36 773.0 561.2)" fill="#9fd0d6" opacity="0.38"/><circle r="1" transform="matrix(0.74 -0.31 0.00 2.01 773.0 544.8)" fill="#9fd0d6" opacity="0.30"/><circle r="1" transform="matrix(0.74 -0.32 0.00 2.01 773.0 530.8)" fill="#9fd0d6" opacity="0.25"/><circle r="1" transform="matrix(0.74 -0.32 0.00 1.87 773.0 516.9)" fill="#9fd0d6" opacity="0.21"/><circle r="1" transform="matrix(0.74 -0.32 0.00 1.87 773.0 503.9)" fill="#9fd0d6" opacity="0.16"/><circle r="1" transform="matrix(0.74 -0.32 0.00 1.73 773.0 490.9)" fill="#9fd0d6" opacity="0.15"/><circle r="1" transform="matrix(0.74 -0.32 0.00 1.73 773.0 478.9)" fill="#9fd0d6" opacity="0.10"/><circle r="1" transform="matrix(0.74 -0.32 0.00 1.58 773.0 466.9)" fill="#9fd0d6" opacity="0.04"/><circle r="1" transform="matrix(0.63 -0.26 0.00 2.59 778.1 645.6)" fill="#86c1c9" opacity="0.75"/><circle r="1" transform="matrix(0.63 -0.26 0.00 2.59 778.1 627.6)" fill="#86c1c9" opacity="0.71"/><circle r="1" transform="matrix(0.63 -0.26 0.00 2.35 778.1 609.6)" fill="#86c1c9" opacity="0.64"/><circle r="1" transform="matrix(0.63 -0.27 0.00 2.48 778.1 593.3)" fill="#9fd0d6" opacity="0.56"/><circle r="1" transform="matrix(0.63 -0.27 0.00 2.46 778.1 576.1)" fill="#9fd0d6" opacity="0.46"/><circle r="1" transform="matrix(0.63 -0.27 0.00 2.36 778.1 559.0)" fill="#9fd0d6" opacity="0.37"/><circle r="1" transform="matrix(0.63 -0.27 0.00 2.02 778.1 542.6)" fill="#9fd0d6" opacity="0.29"/><circle r="1" transform="matrix(0.63 -0.27 0.00 2.02 778.1 528.7)" fill="#9fd0d6" opacity="0.24"/><circle r="1" transform="matrix(0.63 -0.27 0.00 1.87 778.1 514.7)" fill="#9fd0d6" opacity="0.21"/><circle r="1" transform="matrix(0.63 -0.27 0.00 1.87 778.1 501.7)" fill="#9fd0d6" opacity="0.16"/><circle r="1" transform="matrix(0.63 -0.27 0.00 1.73 778.1 488.7)" fill="#9fd0d6" opacity="0.14"/><circle r="1" transform="matrix(0.63 -0.27 0.00 1.73 778.1 476.7)" fill="#9fd0d6" opacity="0.09"/><circle r="1" transform="matrix(1.44 0.30 0.00 1.58 783.8 636.5)" fill="#94c9d0" opacity="0.49"/><circle r="1" transform="matrix(1.42 0.23 0.00 1.56 783.8 626.3)" fill="#94c9d0" opacity="0.47"/><circle r="1" transform="matrix(1.39 0.10 0.00 1.53 783.8 619.2)" fill="#94c9d0" opacity="0.45"/><circle r="1" transform="matrix(1.36 0.02 0.00 1.49 783.8 611.0)" fill="#94c9d0" opacity="0.42"/><circle r="1" transform="matrix(1.32 -0.36 0.00 1.45 783.8 603.0)" fill="#94c9d0" opacity="0.38"/><circle r="1" transform="matrix(1.28 -0.68 0.00 1.41 783.8 595.1)" fill="#94c9d0" opacity="0.35"/><circle r="1" transform="matrix(1.23 -0.94 0.00 1.36 783.8 587.3)" fill="#a4d3d9" opacity="0.31"/><circle r="1" transform="matrix(1.20 -1.11 0.00 1.32 783.8 580.7)" fill="#a4d3d9" opacity="0.28"/><circle r="1" transform="matrix(1.16 -1.23 0.00 1.28 783.8 574.3)" fill="#a4d3d9" opacity="0.25"/><circle r="1" transform="matrix(1.13 -1.31 0.00 1.24 783.8 568.9)" fill="#a4d3d9" opacity="0.22"/><circle r="1" transform="matrix(1.10 -1.36 0.00 1.21 783.8 563.6)" fill="#a4d3d9" opacity="0.20"/><circle r="1" transform="matrix(1.07 -1.40 0.00 1.18 783.8 558.4)" fill="#a4d3d9" opacity="0.18"/><circle r="1" transform="matrix(2.12 0.67 0.00 2.33 791.9 638.6)" fill="#94c9d0" opacity="0.51"/><circle r="1" transform="matrix(2.08 0.50 0.00 2.29 791.9 628.0)" fill="#94c9d0" opacity="0.49"/><circle r="1" transform="matrix(2.04 0.21 0.00 2.24 791.9 619.9)" fill="#94c9d0" opacity="0.46"/><circle r="1" transform="matrix(1.99 0.03 0.00 2.19 791.9 611.1)" fill="#94c9d0" opacity="0.43"/><circle r="1" transform="matrix(1.92 -0.40 0.00 2.11 791.9 601.1)" fill="#94c9d0" opacity="0.38"/><circle r="1" transform="matrix(1.84 -0.74 0.00 2.03 791.9 591.5)" fill="#94c9d0" opacity="0.34"/><circle r="1" transform="matrix(1.76 -1.02 0.00 1.94 791.9 582.1)" fill="#a4d3d9" opacity="0.29"/><circle r="1" transform="matrix(1.70 -1.20 0.00 1.87 791.9 574.4)" fill="#a4d3d9" opacity="0.26"/><circle r="1" transform="matrix(1.64 -1.31 0.00 1.80 791.9 567.1)" fill="#a4d3d9" opacity="0.22"/><circle r="1" transform="matrix(1.59 -1.40 0.00 1.74 791.9 561.0)" fill="#a4d3d9" opacity="0.20"/><circle r="1" transform="matrix(1.54 -1.45 0.00 1.69 791.9 555.2)" fill="#a4d3d9" opacity="0.17"/><circle r="1" transform="matrix(1.49 -1.49 0.00 1.64 791.9 549.4)" fill="#a4d3d9" opacity="0.15"/><circle r="1" transform="matrix(2.18 0.86 0.00 2.40 803.7 642.9)" fill="#94c9d0" opacity="0.56"/><circle r="1" transform="matrix(2.15 0.64 0.00 2.36 803.7 631.2)" fill="#94c9d0" opacity="0.54"/><circle r="1" transform="matrix(2.10 0.27 0.00 2.31 803.7 621.3)" fill="#94c9d0" opacity="0.50"/><circle r="1" transform="matrix(2.04 0.03 0.00 2.24 803.7 611.3)" fill="#94c9d0" opacity="0.46"/><circle r="1" transform="matrix(1.95 -0.35 0.00 2.14 803.7 598.9)" fill="#94c9d0" opacity="0.40"/><circle r="1" transform="matrix(1.85 -0.64 0.00 2.04 803.7 587.1)" fill="#a4d3d9" opacity="0.34"/><circle r="1" transform="matrix(1.75 -0.87 0.00 1.93 803.7 575.9)" fill="#a4d3d9" opacity="0.28"/><circle r="1" transform="matrix(1.67 -1.02 0.00 1.84 803.7 566.7)" fill="#a4d3d9" opacity="0.24"/><circle r="1" transform="matrix(1.60 -1.11 0.00 1.76 803.7 558.3)" fill="#a4d3d9" opacity="0.20"/><circle r="1" transform="matrix(1.55 -1.18 0.00 1.70 803.7 551.4)" fill="#a4d3d9" opacity="0.17"/><circle r="1" transform="matrix(1.50 -1.22 0.00 1.65 803.7 544.9)" fill="#a4d3d9" opacity="0.15"/><circle r="1" transform="matrix(1.45 -1.25 0.00 1.60 803.7 538.6)" fill="#a4d3d9" opacity="0.13"/><circle r="1" transform="matrix(2.25 1.00 0.00 2.47 815.9 648.0)" fill="#94c9d0" opacity="0.63"/><circle r="1" transform="matrix(2.23 0.76 0.00 2.45 815.9 635.1)" fill="#94c9d0" opacity="0.61"/><circle r="1" transform="matrix(2.17 0.32 0.00 2.39 815.9 623.0)" fill="#94c9d0" opacity="0.57"/><circle r="1" transform="matrix(2.10 0.03 0.00 2.31 815.9 611.4)" fill="#94c9d0" opacity="0.52"/><circle r="1" transform="matrix(1.99 -0.33 0.00 2.19 815.9 596.8)" fill="#94c9d0" opacity="0.44"/><circle r="1" transform="matrix(1.87 -0.60 0.00 2.06 815.9 583.1)" fill="#a4d3d9" opacity="0.36"/><circle r="1" transform="matrix(1.76 -0.80 0.00 1.93 815.9 570.1)" fill="#a4d3d9" opacity="0.28"/><circle r="1" transform="matrix(1.66 -0.93 0.00 1.83 815.9 559.6)" fill="#a4d3d9" opacity="0.23"/><circle r="1" transform="matrix(1.59 -1.01 0.00 1.74 815.9 550.3)" fill="#a4d3d9" opacity="0.19"/><circle r="1" transform="matrix(1.53 -1.07 0.00 1.68 815.9 542.5)" fill="#a4d3d9" opacity="0.16"/><circle r="1" transform="matrix(1.48 -1.10 0.00 1.62 815.9 535.4)" fill="#a4d3d9" opacity="0.14"/><circle r="1" transform="matrix(1.44 -1.13 0.00 1.58 815.9 528.6)" fill="#a4d3d9" opacity="0.12"/><circle r="1" transform="matrix(2.32 1.14 0.00 2.55 828.4 653.8)" fill="#94c9d0" opacity="0.70"/><circle r="1" transform="matrix(2.31 0.86 0.00 2.54 828.4 639.6)" fill="#94c9d0" opacity="0.69"/><circle r="1" transform="matrix(2.25 0.37 0.00 2.48 828.4 624.9)" fill="#94c9d0" opacity="0.65"/><circle r="1" transform="matrix(2.17 0.03 0.00 2.39 828.4 611.6)" fill="#94c9d0" opacity="0.58"/><circle r="1" transform="matrix(2.04 -0.32 0.00 2.24 828.4 594.8)" fill="#94c9d0" opacity="0.48"/><circle r="1" transform="matrix(1.90 -0.57 0.00 2.09 828.4 579.3)" fill="#a4d3d9" opacity="0.38"/><circle r="1" transform="matrix(1.76 -0.76 0.00 1.94 828.4 564.6)" fill="#a4d3d9" opacity="0.29"/><circle r="1" transform="matrix(1.66 -0.87 0.00 1.82 828.4 552.8)" fill="#a4d3d9" opacity="0.22"/><circle r="1" transform="matrix(1.57 -0.94 0.00 1.73 828.4 542.6)" fill="#a4d3d9" opacity="0.18"/><circle r="1" transform="matrix(1.51 -1.00 0.00 1.67 828.4 534.1)" fill="#a4d3d9" opacity="0.15"/><circle r="1" transform="matrix(1.47 -1.03 0.00 1.61 828.4 526.4)" fill="#a4d3d9" opacity="0.13"/><circle r="1" transform="matrix(1.43 -1.06 0.00 1.58 828.4 519.1)" fill="#a4d3d9" opacity="0.12"/><circle r="1" transform="matrix(2.38 0.95 0.00 2.62 841.2 644.6)" fill="#94c9d0" opacity="0.78"/><circle r="1" transform="matrix(2.32 0.41 0.00 2.56 841.2 627.1)" fill="#94c9d0" opacity="0.73"/><circle r="1" transform="matrix(2.23 0.03 0.00 2.45 841.2 611.8)" fill="#94c9d0" opacity="0.65"/><circle r="1" transform="matrix(2.07 -0.31 0.00 2.34 841.2 592.8)" fill="#94c9d0" opacity="0.52"/><circle r="1" transform="matrix(1.91 -0.55 0.00 2.10 841.2 575.5)" fill="#a4d3d9" opacity="0.39"/><circle r="1" transform="matrix(1.76 -0.72 0.00 1.93 841.2 559.2)" fill="#a4d3d9" opacity="0.29"/><circle r="1" transform="matrix(1.65 -0.83 0.00 1.81 841.2 546.2)" fill="#a4d3d9" opacity="0.22"/><circle r="1" transform="matrix(1.56 -0.89 0.00 1.72 841.2 535.0)" fill="#a4d3d9" opacity="0.17"/><circle r="1" transform="matrix(1.51 -0.94 0.00 1.66 841.2 525.8)" fill="#a4d3d9" opacity="0.14"/><circle r="1" transform="matrix(1.47 -0.98 0.00 1.61 841.2 517.5)" fill="#a4d3d9" opacity="0.13"/><circle r="1" transform="matrix(1.44 -1.02 0.00 1.59 841.2 509.7)" fill="#a4d3d9" opacity="0.12"/><circle r="1" transform="matrix(2.43 1.03 0.00 2.67 854.5 650.1)" fill="#94c9d0" opacity="0.86"/><circle r="1" transform="matrix(2.38 0.44 0.00 2.62 854.5 629.5)" fill="#94c9d0" opacity="0.81"/><circle r="1" transform="matrix(2.27 0.03 0.00 2.51 854.5 611.9)" fill="#94c9d0" opacity="0.71"/><circle r="1" transform="matrix(2.10 -0.30 0.00 2.56 854.5 590.9)" fill="#94c9d0" opacity="0.55"/><circle r="1" transform="matrix(1.91 -0.52 0.00 2.26 854.5 571.8)" fill="#a4d3d9" opacity="0.40"/><circle r="1" transform="matrix(1.74 -0.69 0.00 1.92 854.5 553.9)" fill="#a4d3d9" opacity="0.28"/><circle r="1" transform="matrix(1.63 -0.79 0.00 1.79 854.5 539.6)" fill="#a4d3d9" opacity="0.20"/><circle r="1" transform="matrix(1.55 -0.85 0.00 1.70 854.5 527.6)" fill="#a4d3d9" opacity="0.16"/><circle r="1" transform="matrix(1.50 -0.90 0.00 1.65 854.5 517.7)" fill="#a4d3d9" opacity="0.14"/><circle r="1" transform="matrix(1.47 -0.95 0.00 1.62 854.5 508.9)" fill="#a4d3d9" opacity="0.13"/><circle r="1" transform="matrix(1.46 -0.99 0.00 1.60 854.5 500.6)" fill="#a4d3d9" opacity="0.13"/><circle r="1" transform="matrix(2.41 0.47 0.00 2.96 868.0 632.1)" fill="#94c9d0" opacity="0.87"/><circle r="1" transform="matrix(2.29 0.03 0.00 2.86 868.0 612.1)" fill="#94c9d0" opacity="0.75"/><circle r="1" transform="matrix(2.09 -0.29 0.00 2.78 868.0 589.0)" fill="#a4d3d9" opacity="0.57"/><circle r="1" transform="matrix(1.89 -0.50 0.00 2.43 868.0 568.2)" fill="#a4d3d9" opacity="0.40"/><circle r="1" transform="matrix(1.71 -0.65 0.00 1.88 868.0 548.6)" fill="#a4d3d9" opacity="0.26"/><circle r="1" transform="matrix(1.59 -0.74 0.00 1.75 868.0 533.2)" fill="#a4d3d9" opacity="0.19"/><circle r="1" transform="matrix(1.52 -0.80 0.00 1.67 868.0 520.3)" fill="#a4d3d9" opacity="0.15"/><circle r="1" transform="matrix(1.48 -0.86 0.00 1.63 868.0 509.7)" fill="#a4d3d9" opacity="0.14"/><circle r="1" transform="matrix(1.47 -0.91 0.00 1.62 868.0 500.3)" fill="#a4d3d9" opacity="0.14"/><circle r="1" transform="matrix(1.47 -0.97 0.00 1.62 868.0 491.5)" fill="#a4d3d9" opacity="0.12"/><circle r="1" transform="matrix(2.42 0.50 0.00 3.35 881.6 634.8)" fill="#94c9d0" opacity="0.89"/><circle r="1" transform="matrix(2.29 0.03 0.00 3.22 881.6 612.3)" fill="#94c9d0" opacity="0.76"/><circle r="1" transform="matrix(2.08 -0.28 0.00 2.99 881.6 587.1)" fill="#a4d3d9" opacity="0.56"/><circle r="1" transform="matrix(1.86 -0.48 0.00 2.59 881.6 564.6)" fill="#a4d3d9" opacity="0.37"/><circle r="1" transform="matrix(1.67 -0.62 0.00 1.89 881.6 543.5)" fill="#a4d3d9" opacity="0.24"/><circle r="1" transform="matrix(1.55 -0.70 0.00 1.71 881.6 527.0)" fill="#a4d3d9" opacity="0.17"/><circle r="1" transform="matrix(1.49 -0.77 0.00 1.64 881.6 513.2)" fill="#a4d3d9" opacity="0.15"/><circle r="1" transform="matrix(1.47 -0.83 0.00 1.62 881.6 501.9)" fill="#a4d3d9" opacity="0.14"/><circle r="1" transform="matrix(1.47 -0.89 0.00 1.62 881.6 492.0)" fill="#a4d3d9" opacity="0.12"/><circle r="1" transform="matrix(1.47 -0.94 0.00 1.62 881.6 482.7)" fill="#a4d3d9" opacity="0.09"/><circle r="1" transform="matrix(2.43 0.52 0.00 3.76 895.2 637.7)" fill="#94c9d0" opacity="0.90"/><circle r="1" transform="matrix(2.29 0.03 0.00 3.60 895.2 612.5)" fill="#94c9d0" opacity="0.77"/><circle r="1" transform="matrix(2.06 -0.27 0.00 3.19 895.2 585.3)" fill="#a4d3d9" opacity="0.54"/><circle r="1" transform="matrix(1.82 -0.46 0.00 2.74 895.2 561.2)" fill="#a4d3d9" opacity="0.35"/><circle r="1" transform="matrix(1.63 -0.59 0.00 1.99 895.2 538.6)" fill="#a4d3d9" opacity="0.21"/><circle r="1" transform="matrix(1.52 -0.67 0.00 1.67 895.2 520.9)" fill="#a4d3d9" opacity="0.16"/><circle r="1" transform="matrix(1.47 -0.74 0.00 1.62 895.2 506.3)" fill="#a4d3d9" opacity="0.14"/><circle r="1" transform="matrix(1.47 -0.81 0.00 1.62 895.2 494.3)" fill="#a4d3d9" opacity="0.13"/><circle r="1" transform="matrix(1.47 -0.87 0.00 1.62 895.2 483.8)" fill="#a4d3d9" opacity="0.09"/><circle r="1" transform="matrix(1.47 -0.91 0.00 1.62 895.2 474.2)" fill="#a4d3d9" opacity="0.06"/><circle r="1" transform="matrix(2.44 0.54 0.00 4.18 908.8 640.6)" fill="#94c9d0" opacity="0.91"/><circle r="1" transform="matrix(2.30 0.03 0.00 4.00 908.8 612.6)" fill="#94c9d0" opacity="0.77"/><circle r="1" transform="matrix(2.04 -0.26 0.00 3.38 908.8 583.5)" fill="#a4d3d9" opacity="0.53"/><circle r="1" transform="matrix(1.79 -0.44 0.00 2.88 908.8 557.8)" fill="#a4d3d9" opacity="0.33"/><circle r="1" transform="matrix(1.60 -0.56 0.00 2.08 908.8 533.7)" fill="#a4d3d9" opacity="0.19"/><circle r="1" transform="matrix(1.50 -0.65 0.00 1.65 908.8 514.9)" fill="#a4d3d9" opacity="0.15"/><circle r="1" transform="matrix(1.47 -0.72 0.00 1.62 908.8 499.6)" fill="#a4d3d9" opacity="0.14"/><circle r="1" transform="matrix(1.47 -0.79 0.00 1.62 908.8 486.9)" fill="#a4d3d9" opacity="0.10"/><circle r="1" transform="matrix(1.47 -0.85 0.00 1.62 908.8 475.9)" fill="#a4d3d9" opacity="0.06"/><circle r="1" transform="matrix(2.44 0.55 0.00 4.62 922.4 643.6)" fill="#94c9d0" opacity="0.91"/><circle r="1" transform="matrix(2.30 0.03 0.00 4.41 922.4 612.8)" fill="#94c9d0" opacity="0.77"/><circle r="1" transform="matrix(2.02 -0.25 0.00 3.57 922.4 581.8)" fill="#a4d3d9" opacity="0.51"/><circle r="1" transform="matrix(1.76 -0.42 0.00 3.02 922.4 554.5)" fill="#a4d3d9" opacity="0.30"/><circle r="1" transform="matrix(1.56 -0.54 0.00 2.17 922.4 529.0)" fill="#a4d3d9" opacity="0.18"/><circle r="1" transform="matrix(1.48 -0.63 0.00 1.71 922.4 509.1)" fill="#a4d3d9" opacity="0.14"/><circle r="1" transform="matrix(1.47 -0.71 0.00 1.62 922.4 493.0)" fill="#a4d3d9" opacity="0.12"/><circle r="1" transform="matrix(1.47 -0.78 0.00 1.62 922.4 479.6)" fill="#a4d3d9" opacity="0.08"/><circle r="1" transform="matrix(2.45 0.57 0.00 5.06 936.0 646.8)" fill="#94c9d0" opacity="0.92"/><circle r="1" transform="matrix(2.30 0.03 0.00 4.70 936.0 613.0)" fill="#94c9d0" opacity="0.77"/><circle r="1" transform="matrix(2.01 -0.25 0.00 3.75 936.0 580.1)" fill="#a4d3d9" opacity="0.50"/><circle r="1" transform="matrix(1.73 -0.41 0.00 3.15 936.0 551.2)" fill="#a4d3d9" opacity="0.28"/><circle r="1" transform="matrix(1.54 -0.52 0.00 2.26 936.0 524.3)" fill="#a4d3d9" opacity="0.16"/><circle r="1" transform="matrix(1.47 -0.61 0.00 1.78 936.0 503.4)" fill="#a4d3d9" opacity="0.14"/><circle r="1" transform="matrix(1.47 -0.69 0.00 1.62 936.0 486.5)" fill="#a4d3d9" opacity="0.10"/><circle r="1" transform="matrix(1.47 -0.76 0.00 1.62 936.0 472.5)" fill="#a4d3d9" opacity="0.05"/></g><linearGradient id="g237286" gradientUnits="userSpaceOnUse" x1="237.8" y1="0" x2="335" y2="0"><stop offset="0" stop-color="#1b6571"/><stop offset="0.35" stop-color="#4f9aa4" stop-opacity="0.7"/><stop offset="1" stop-color="#bfe0e4" stop-opacity="0"/></linearGradient><rect x="237.8" y="285.5" width="97.19999999999999" height="1.2" fill="url(#g237286)"/><linearGradient id="g185354" gradientUnits="userSpaceOnUse" x1="185.5" y1="0" x2="262" y2="0"><stop offset="0" stop-color="#1b6571"/><stop offset="0.35" stop-color="#4f9aa4" stop-opacity="0.7"/><stop offset="1" stop-color="#bfe0e4" stop-opacity="0"/></linearGradient><rect x="185.5" y="354.09999999999997" width="76.5" height="1.2" fill="url(#g185354)"/><linearGradient id="g197429" gradientUnits="userSpaceOnUse" x1="197" y1="0" x2="290" y2="0"><stop offset="0" stop-color="#1b6571"/><stop offset="0.35" stop-color="#4f9aa4" stop-opacity="0.7"/><stop offset="1" stop-color="#bfe0e4" stop-opacity="0"/></linearGradient><rect x="197" y="429.2" width="93" height="1.2" fill="url(#g197429)"/><linearGradient id="g248491" gradientUnits="userSpaceOnUse" x1="248.9" y1="0" x2="345" y2="0"><stop offset="0" stop-color="#1b6571"/><stop offset="0.35" stop-color="#4f9aa4" stop-opacity="0.7"/><stop offset="1" stop-color="#bfe0e4" stop-opacity="0"/></linearGradient><rect x="248.9" y="490.79999999999995" width="96.1" height="1.2" fill="url(#g248491)"/><linearGradient id="g668280" gradientUnits="userSpaceOnUse" x1="668.3" y1="0" x2="590" y2="0"><stop offset="0" stop-color="#1b6571"/><stop offset="0.35" stop-color="#4f9aa4" stop-opacity="0.7"/><stop offset="1" stop-color="#bfe0e4" stop-opacity="0"/></linearGradient><rect x="590" y="279.4" width="78.29999999999995" height="1.2" fill="url(#g668280)"/><linearGradient id="g737328" gradientUnits="userSpaceOnUse" x1="737.3" y1="0" x2="672" y2="0"><stop offset="0" stop-color="#1b6571"/><stop offset="0.35" stop-color="#4f9aa4" stop-opacity="0.7"/><stop offset="1" stop-color="#bfe0e4" stop-opacity="0"/></linearGradient><rect x="672" y="327.7" width="65.29999999999995" height="1.2" fill="url(#g737328)"/><linearGradient id="g767387" gradientUnits="userSpaceOnUse" x1="767.4" y1="0" x2="678" y2="0"><stop offset="0" stop-color="#1b6571"/><stop offset="0.35" stop-color="#4f9aa4" stop-opacity="0.7"/><stop offset="1" stop-color="#bfe0e4" stop-opacity="0"/></linearGradient><rect x="678" y="386.79999999999995" width="89.39999999999998" height="1.2" fill="url(#g767387)"/><linearGradient id="g752444" gradientUnits="userSpaceOnUse" x1="752.1" y1="0" x2="668" y2="0"><stop offset="0" stop-color="#1b6571"/><stop offset="0.35" stop-color="#4f9aa4" stop-opacity="0.7"/><stop offset="1" stop-color="#bfe0e4" stop-opacity="0"/></linearGradient><rect x="668" y="444.2" width="84.10000000000002" height="1.2" fill="url(#g752444)"/><linearGradient id="g692490" gradientUnits="userSpaceOnUse" x1="692.6" y1="0" x2="630" y2="0"><stop offset="0" stop-color="#1b6571"/><stop offset="0.35" stop-color="#4f9aa4" stop-opacity="0.7"/><stop offset="1" stop-color="#bfe0e4" stop-opacity="0"/></linearGradient><rect x="630" y="489.79999999999995" width="62.60000000000002" height="1.2" fill="url(#g692490)"/><circle cx="369.0" cy="386.0" r="104.5" fill="#1e3a40" opacity="0.42" filter="url(#sh)"/><circle cx="369.0" cy="384.0" r="103.5" fill="#f5f6f6"/><line x1="310.01" y1="327.04" x2="313.75" y2="330.65" stroke="#9fc3c8" stroke-width="1.1" opacity="0.07"/><line x1="314.13" y1="323.06" x2="317.61" y2="326.93" stroke="#9fc3c8" stroke-width="1.1" opacity="0.14"/><line x1="318.52" y1="319.38" x2="321.72" y2="323.48" stroke="#9fc3c8" stroke-width="1.1" opacity="0.20"/><line x1="323.15" y1="316.02" x2="326.05" y2="320.33" stroke="#9fc3c8" stroke-width="1.1" opacity="0.27"/><line x1="328.00" y1="312.99" x2="330.60" y2="317.49" stroke="#9fc3c8" stroke-width="1.1" opacity="0.34"/><line x1="333.05" y1="310.30" x2="335.33" y2="314.97" stroke="#9fc3c8" stroke-width="1.1" opacity="0.41"/><line x1="338.28" y1="307.97" x2="340.23" y2="312.79" stroke="#9fc3c8" stroke-width="1.1" opacity="0.48"/><line x1="343.66" y1="306.01" x2="345.27" y2="310.96" stroke="#9fc3c8" stroke-width="1.1" opacity="0.54"/><line x1="349.16" y1="304.44" x2="350.42" y2="309.48" stroke="#9fc3c8" stroke-width="1.1" opacity="0.61"/><line x1="354.76" y1="303.25" x2="355.66" y2="308.37" stroke="#9fc3c8" stroke-width="1.1" opacity="0.68"/><line x1="360.43" y1="302.45" x2="360.97" y2="307.62" stroke="#9fc3c8" stroke-width="1.1" opacity="0.75"/><line x1="366.14" y1="302.05" x2="366.32" y2="307.25" stroke="#9fc3c8" stroke-width="1.1" opacity="0.82"/><line x1="371.86" y1="302.05" x2="371.68" y2="307.25" stroke="#9fc3c8" stroke-width="1.1" opacity="0.88"/><line x1="377.57" y1="302.45" x2="377.03" y2="307.62" stroke="#9fc3c8" stroke-width="1.1" opacity="0.95"/><line x1="383.24" y1="303.25" x2="382.34" y2="308.37" stroke="#9fc3c8" stroke-width="1.1" opacity="1.00"/><line x1="388.84" y1="304.44" x2="387.58" y2="309.48" stroke="#9fc3c8" stroke-width="1.1" opacity="1.00"/><line x1="394.34" y1="306.01" x2="392.73" y2="310.96" stroke="#9fc3c8" stroke-width="1.1" opacity="1.00"/><line x1="399.72" y1="307.97" x2="397.77" y2="312.79" stroke="#9fc3c8" stroke-width="1.1" opacity="1.00"/><line x1="404.95" y1="310.30" x2="402.67" y2="314.97" stroke="#9fc3c8" stroke-width="1.1" opacity="1.00"/><line x1="410.00" y1="312.99" x2="407.40" y2="317.49" stroke="#9fc3c8" stroke-width="1.1" opacity="1.00"/><line x1="414.85" y1="316.02" x2="411.95" y2="320.33" stroke="#9fc3c8" stroke-width="1.1" opacity="1.00"/><line x1="419.48" y1="319.38" x2="416.28" y2="323.48" stroke="#9fc3c8" stroke-width="1.1" opacity="1.00"/><line x1="423.87" y1="323.06" x2="420.39" y2="326.93" stroke="#9fc3c8" stroke-width="1.1" opacity="1.00"/><line x1="427.99" y1="327.04" x2="424.25" y2="330.65" stroke="#9fc3c8" stroke-width="1.1" opacity="1.00"/><line x1="431.82" y1="331.29" x2="427.83" y2="334.63" stroke="#9fc3c8" stroke-width="1.1" opacity="1.00"/><line x1="435.34" y1="335.80" x2="431.13" y2="338.86" stroke="#9fc3c8" stroke-width="1.1" opacity="1.00"/><line x1="438.54" y1="340.55" x2="434.13" y2="343.30" stroke="#9fc3c8" stroke-width="1.1" opacity="1.00"/><line x1="441.40" y1="345.50" x2="436.81" y2="347.94" stroke="#9fc3c8" stroke-width="1.1" opacity="1.00"/><line x1="443.91" y1="350.65" x2="439.16" y2="352.76" stroke="#9fc3c8" stroke-width="1.1" opacity="1.00"/><line x1="446.05" y1="355.95" x2="441.17" y2="357.73" stroke="#9fc3c8" stroke-width="1.1" opacity="0.95"/><line x1="447.82" y1="361.40" x2="442.82" y2="362.83" stroke="#9fc3c8" stroke-width="1.1" opacity="0.87"/><line x1="449.21" y1="366.95" x2="444.12" y2="368.03" stroke="#9fc3c8" stroke-width="1.1" opacity="0.79"/><line x1="450.20" y1="372.59" x2="445.05" y2="373.31" stroke="#9fc3c8" stroke-width="1.1" opacity="0.71"/><line x1="450.80" y1="378.28" x2="445.61" y2="378.64" stroke="#9fc3c8" stroke-width="1.1" opacity="0.63"/><line x1="451.00" y1="384.00" x2="445.80" y2="384.00" stroke="#9fc3c8" stroke-width="1.1" opacity="0.56"/><line x1="450.80" y1="389.72" x2="445.61" y2="389.36" stroke="#9fc3c8" stroke-width="1.1" opacity="0.48"/><line x1="450.20" y1="395.41" x2="445.05" y2="394.69" stroke="#9fc3c8" stroke-width="1.1" opacity="0.40"/><line x1="449.21" y1="401.05" x2="444.12" y2="399.97" stroke="#9fc3c8" stroke-width="1.1" opacity="0.32"/><line x1="447.82" y1="406.60" x2="442.82" y2="405.17" stroke="#9fc3c8" stroke-width="1.1" opacity="0.24"/><line x1="446.05" y1="412.05" x2="441.17" y2="410.27" stroke="#9fc3c8" stroke-width="1.1" opacity="0.16"/><line x1="443.91" y1="417.35" x2="439.16" y2="415.24" stroke="#9fc3c8" stroke-width="1.1" opacity="0.08"/><line x1="360.43" y1="465.55" x2="360.97" y2="460.38" stroke="#9fc3c8" stroke-width="1.1" opacity="0.30"/><line x1="354.76" y1="464.75" x2="355.66" y2="459.63" stroke="#9fc3c8" stroke-width="1.1" opacity="0.61"/><line x1="349.16" y1="463.56" x2="350.42" y2="458.52" stroke="#9fc3c8" stroke-width="1.1" opacity="0.91"/><line x1="343.66" y1="461.99" x2="345.27" y2="457.04" stroke="#9fc3c8" stroke-width="1.1" opacity="1.00"/><line x1="338.28" y1="460.03" x2="340.23" y2="455.21" stroke="#9fc3c8" stroke-width="1.1" opacity="1.00"/><line x1="333.05" y1="457.70" x2="335.33" y2="453.03" stroke="#9fc3c8" stroke-width="1.1" opacity="1.00"/><line x1="328.00" y1="455.01" x2="330.60" y2="450.51" stroke="#9fc3c8" stroke-width="1.1" opacity="1.00"/><line x1="323.15" y1="451.98" x2="326.05" y2="447.67" stroke="#9fc3c8" stroke-width="1.1" opacity="1.00"/><line x1="318.52" y1="448.62" x2="321.72" y2="444.52" stroke="#9fc3c8" stroke-width="1.1" opacity="1.00"/><line x1="314.13" y1="444.94" x2="317.61" y2="441.07" stroke="#9fc3c8" stroke-width="1.1" opacity="1.00"/><line x1="310.01" y1="440.96" x2="313.75" y2="437.35" stroke="#9fc3c8" stroke-width="1.1" opacity="1.00"/><line x1="306.18" y1="436.71" x2="310.17" y2="433.37" stroke="#9fc3c8" stroke-width="1.1" opacity="1.00"/><line x1="302.66" y1="432.20" x2="306.87" y2="429.14" stroke="#9fc3c8" stroke-width="1.1" opacity="0.91"/><line x1="299.46" y1="427.45" x2="303.87" y2="424.70" stroke="#9fc3c8" stroke-width="1.1" opacity="0.81"/><line x1="296.60" y1="422.50" x2="301.19" y2="420.06" stroke="#9fc3c8" stroke-width="1.1" opacity="0.71"/><line x1="294.09" y1="417.35" x2="298.84" y2="415.24" stroke="#9fc3c8" stroke-width="1.1" opacity="0.61"/><line x1="291.95" y1="412.05" x2="296.83" y2="410.27" stroke="#9fc3c8" stroke-width="1.1" opacity="0.51"/><line x1="290.18" y1="406.60" x2="295.18" y2="405.17" stroke="#9fc3c8" stroke-width="1.1" opacity="0.40"/><line x1="288.79" y1="401.05" x2="293.88" y2="399.97" stroke="#9fc3c8" stroke-width="1.1" opacity="0.30"/><line x1="287.80" y1="395.41" x2="292.95" y2="394.69" stroke="#9fc3c8" stroke-width="1.1" opacity="0.20"/><line x1="287.20" y1="389.72" x2="292.39" y2="389.36" stroke="#9fc3c8" stroke-width="1.1" opacity="0.10"/><path d="M453.48 443.80 A103.5 103.5 0 0 1 337.01 482.43" fill="none" stroke="#1b6571" stroke-width="2"/><path d="M274.40 425.98 A103.5 103.5 0 0 1 357.19 281.18" fill="none" stroke="#1b6571" stroke-width="2"/><path d="M337.01 482.43 A103.5 103.5 0 0 1 274.40 425.98" fill="none" stroke="#3a8590" stroke-width="1.6" stroke-dasharray="1.1 1.7"/><path d="M357.19 281.18 A103.5 103.5 0 0 1 460.28 335.21" fill="none" stroke="#3a8590" stroke-width="1.6" stroke-dasharray="1.1 1.7"/><circle cx="559.6" cy="400.0" r="118.3" fill="#1e3a40" opacity="0.36" filter="url(#sh)"/><circle cx="560.6" cy="396.0" r="117.3" fill="#ffffff"/><line x1="494.78" y1="332.44" x2="498.52" y2="336.05" stroke="#9fc3c8" stroke-width="1.1" opacity="0.07"/><line x1="499.37" y1="328.00" x2="502.85" y2="331.87" stroke="#9fc3c8" stroke-width="1.1" opacity="0.14"/><line x1="504.27" y1="323.90" x2="507.47" y2="327.99" stroke="#9fc3c8" stroke-width="1.1" opacity="0.20"/><line x1="509.43" y1="320.14" x2="512.34" y2="324.45" stroke="#9fc3c8" stroke-width="1.1" opacity="0.27"/><line x1="514.85" y1="316.76" x2="517.45" y2="321.26" stroke="#9fc3c8" stroke-width="1.1" opacity="0.34"/><line x1="520.49" y1="313.76" x2="522.77" y2="318.43" stroke="#9fc3c8" stroke-width="1.1" opacity="0.41"/><line x1="526.32" y1="311.16" x2="528.27" y2="315.98" stroke="#9fc3c8" stroke-width="1.1" opacity="0.48"/><line x1="532.32" y1="308.98" x2="533.93" y2="313.92" stroke="#9fc3c8" stroke-width="1.1" opacity="0.54"/><line x1="538.46" y1="307.22" x2="539.72" y2="312.26" stroke="#9fc3c8" stroke-width="1.1" opacity="0.61"/><line x1="544.71" y1="305.89" x2="545.61" y2="311.01" stroke="#9fc3c8" stroke-width="1.1" opacity="0.68"/><line x1="551.04" y1="305.00" x2="551.58" y2="310.17" stroke="#9fc3c8" stroke-width="1.1" opacity="0.75"/><line x1="557.41" y1="304.56" x2="557.59" y2="309.75" stroke="#9fc3c8" stroke-width="1.1" opacity="0.82"/><line x1="563.79" y1="304.56" x2="563.61" y2="309.75" stroke="#9fc3c8" stroke-width="1.1" opacity="0.88"/><line x1="570.16" y1="305.00" x2="569.62" y2="310.17" stroke="#9fc3c8" stroke-width="1.1" opacity="0.95"/><line x1="576.49" y1="305.89" x2="575.59" y2="311.01" stroke="#9fc3c8" stroke-width="1.1" opacity="1.00"/><line x1="582.74" y1="307.22" x2="581.48" y2="312.26" stroke="#9fc3c8" stroke-width="1.1" opacity="1.00"/><line x1="588.88" y1="308.98" x2="587.27" y2="313.92" stroke="#9fc3c8" stroke-width="1.1" opacity="1.00"/><line x1="594.88" y1="311.16" x2="592.93" y2="315.98" stroke="#9fc3c8" stroke-width="1.1" opacity="1.00"/><line x1="600.71" y1="313.76" x2="598.43" y2="318.43" stroke="#9fc3c8" stroke-width="1.1" opacity="1.00"/><line x1="606.35" y1="316.76" x2="603.75" y2="321.26" stroke="#9fc3c8" stroke-width="1.1" opacity="1.00"/><line x1="611.77" y1="320.14" x2="608.86" y2="324.45" stroke="#9fc3c8" stroke-width="1.1" opacity="1.00"/><line x1="616.93" y1="323.90" x2="613.73" y2="327.99" stroke="#9fc3c8" stroke-width="1.1" opacity="1.00"/><line x1="621.83" y1="328.00" x2="618.35" y2="331.87" stroke="#9fc3c8" stroke-width="1.1" opacity="1.00"/><line x1="626.42" y1="332.44" x2="622.68" y2="336.05" stroke="#9fc3c8" stroke-width="1.1" opacity="1.00"/><line x1="630.69" y1="337.18" x2="626.71" y2="340.53" stroke="#9fc3c8" stroke-width="1.1" opacity="1.00"/><line x1="634.63" y1="342.22" x2="630.42" y2="345.27" stroke="#9fc3c8" stroke-width="1.1" opacity="1.00"/><line x1="638.20" y1="347.51" x2="633.79" y2="350.27" stroke="#9fc3c8" stroke-width="1.1" opacity="1.00"/><line x1="641.39" y1="353.04" x2="636.80" y2="355.48" stroke="#9fc3c8" stroke-width="1.1" opacity="1.00"/><line x1="644.19" y1="358.78" x2="639.44" y2="360.90" stroke="#9fc3c8" stroke-width="1.1" opacity="1.00"/><line x1="646.58" y1="364.71" x2="641.70" y2="366.48" stroke="#9fc3c8" stroke-width="1.1" opacity="0.95"/><line x1="648.56" y1="370.78" x2="643.56" y2="372.21" stroke="#9fc3c8" stroke-width="1.1" opacity="0.87"/><line x1="650.10" y1="376.98" x2="645.01" y2="378.06" stroke="#9fc3c8" stroke-width="1.1" opacity="0.79"/><line x1="651.21" y1="383.27" x2="646.06" y2="383.99" stroke="#9fc3c8" stroke-width="1.1" opacity="0.71"/><line x1="651.88" y1="389.62" x2="646.69" y2="389.98" stroke="#9fc3c8" stroke-width="1.1" opacity="0.63"/><line x1="652.10" y1="396.00" x2="646.90" y2="396.00" stroke="#9fc3c8" stroke-width="1.1" opacity="0.56"/><line x1="651.88" y1="402.38" x2="646.69" y2="402.02" stroke="#9fc3c8" stroke-width="1.1" opacity="0.48"/><line x1="651.21" y1="408.73" x2="646.06" y2="408.01" stroke="#9fc3c8" stroke-width="1.1" opacity="0.40"/><line x1="650.10" y1="415.02" x2="645.01" y2="413.94" stroke="#9fc3c8" stroke-width="1.1" opacity="0.32"/><line x1="648.56" y1="421.22" x2="643.56" y2="419.79" stroke="#9fc3c8" stroke-width="1.1" opacity="0.24"/><line x1="646.58" y1="427.29" x2="641.70" y2="425.52" stroke="#9fc3c8" stroke-width="1.1" opacity="0.16"/><line x1="644.19" y1="433.22" x2="639.44" y2="431.10" stroke="#9fc3c8" stroke-width="1.1" opacity="0.08"/><line x1="551.04" y1="487.00" x2="551.58" y2="481.83" stroke="#9fc3c8" stroke-width="1.1" opacity="0.30"/><line x1="544.71" y1="486.11" x2="545.61" y2="480.99" stroke="#9fc3c8" stroke-width="1.1" opacity="0.61"/><line x1="538.46" y1="484.78" x2="539.72" y2="479.74" stroke="#9fc3c8" stroke-width="1.1" opacity="0.91"/><line x1="532.32" y1="483.02" x2="533.93" y2="478.08" stroke="#9fc3c8" stroke-width="1.1" opacity="1.00"/><line x1="526.32" y1="480.84" x2="528.27" y2="476.02" stroke="#9fc3c8" stroke-width="1.1" opacity="1.00"/><line x1="520.49" y1="478.24" x2="522.77" y2="473.57" stroke="#9fc3c8" stroke-width="1.1" opacity="1.00"/><line x1="514.85" y1="475.24" x2="517.45" y2="470.74" stroke="#9fc3c8" stroke-width="1.1" opacity="1.00"/><line x1="509.43" y1="471.86" x2="512.34" y2="467.55" stroke="#9fc3c8" stroke-width="1.1" opacity="1.00"/><line x1="504.27" y1="468.10" x2="507.47" y2="464.01" stroke="#9fc3c8" stroke-width="1.1" opacity="1.00"/><line x1="499.37" y1="464.00" x2="502.85" y2="460.13" stroke="#9fc3c8" stroke-width="1.1" opacity="1.00"/><line x1="494.78" y1="459.56" x2="498.52" y2="455.95" stroke="#9fc3c8" stroke-width="1.1" opacity="1.00"/><line x1="490.51" y1="454.82" x2="494.49" y2="451.47" stroke="#9fc3c8" stroke-width="1.1" opacity="1.00"/><line x1="486.57" y1="449.78" x2="490.78" y2="446.73" stroke="#9fc3c8" stroke-width="1.1" opacity="0.91"/><line x1="483.00" y1="444.49" x2="487.41" y2="441.73" stroke="#9fc3c8" stroke-width="1.1" opacity="0.81"/><line x1="479.81" y1="438.96" x2="484.40" y2="436.52" stroke="#9fc3c8" stroke-width="1.1" opacity="0.71"/><line x1="477.01" y1="433.22" x2="481.76" y2="431.10" stroke="#9fc3c8" stroke-width="1.1" opacity="0.61"/><line x1="474.62" y1="427.29" x2="479.50" y2="425.52" stroke="#9fc3c8" stroke-width="1.1" opacity="0.51"/><line x1="472.64" y1="421.22" x2="477.64" y2="419.79" stroke="#9fc3c8" stroke-width="1.1" opacity="0.40"/><line x1="471.10" y1="415.02" x2="476.19" y2="413.94" stroke="#9fc3c8" stroke-width="1.1" opacity="0.30"/><line x1="469.99" y1="408.73" x2="475.14" y2="408.01" stroke="#9fc3c8" stroke-width="1.1" opacity="0.20"/><line x1="469.32" y1="402.38" x2="474.51" y2="402.02" stroke="#9fc3c8" stroke-width="1.1" opacity="0.10"/><path d="M664.72 450.02 A117.3 117.3 0 0 1 523.39 507.24" fill="none" stroke="#1b6571" stroke-width="2"/><path d="M453.01 442.74 A117.3 117.3 0 0 1 546.79 279.52" fill="none" stroke="#1b6571" stroke-width="2"/><path d="M523.39 507.24 A117.3 117.3 0 0 1 453.01 442.74" fill="none" stroke="#3a8590" stroke-width="1.6" stroke-dasharray="1.1 1.7"/><path d="M546.79 279.52 A117.3 117.3 0 0 1 664.72 450.02" fill="none" stroke="#3a8590" stroke-width="1.6" stroke-dasharray="1.1 1.7"/><circle cx="357.19" cy="281.18" r="4.3" fill="#fff"/><circle cx="357.19" cy="281.18" r="2.7" fill="#1b6571"/><circle cx="274.40" cy="425.98" r="4.3" fill="#fff"/><circle cx="274.40" cy="425.98" r="2.7" fill="#1b6571"/><circle cx="337.01" cy="482.43" r="4.3" fill="#fff"/><circle cx="337.01" cy="482.43" r="2.7" fill="#1b6571"/><circle cx="453.48" cy="443.80" r="4.3" fill="#fff"/><circle cx="453.48" cy="443.80" r="2.7" fill="#1b6571"/><circle cx="546.79" cy="279.52" r="4.3" fill="#fff"/><circle cx="546.79" cy="279.52" r="2.7" fill="#1b6571"/><circle cx="523.39" cy="507.24" r="4.3" fill="#fff"/><circle cx="523.39" cy="507.24" r="2.7" fill="#1b6571"/><circle cx="664.72" cy="450.02" r="4.3" fill="#fff"/><circle cx="664.72" cy="450.02" r="2.7" fill="#1b6571"/><circle cx="237.8" cy="286.1" r="7" fill="none" stroke="#52c3d2" stroke-width="1.3"/><circle cx="237.8" cy="286.1" r="2.9" fill="#1b6571"/><circle cx="185.5" cy="354.7" r="7" fill="none" stroke="#52c3d2" stroke-width="1.3"/><circle cx="185.5" cy="354.7" r="2.9" fill="#1b6571"/><circle cx="197" cy="429.8" r="7" fill="none" stroke="#52c3d2" stroke-width="1.3"/><circle cx="197" cy="429.8" r="2.9" fill="#1b6571"/><circle cx="248.9" cy="491.4" r="7" fill="none" stroke="#52c3d2" stroke-width="1.3"/><circle cx="248.9" cy="491.4" r="2.9" fill="#1b6571"/><circle cx="668.3" cy="280" r="7" fill="none" stroke="#52c3d2" stroke-width="1.3"/><circle cx="668.3" cy="280" r="2.9" fill="#1b6571"/><circle cx="737.3" cy="328.3" r="7" fill="none" stroke="#52c3d2" stroke-width="1.3"/><circle cx="737.3" cy="328.3" r="2.9" fill="#1b6571"/><circle cx="767.4" cy="387.4" r="7" fill="none" stroke="#52c3d2" stroke-width="1.3"/><circle cx="767.4" cy="387.4" r="2.9" fill="#1b6571"/><circle cx="752.1" cy="444.8" r="7" fill="none" stroke="#52c3d2" stroke-width="1.3"/><circle cx="752.1" cy="444.8" r="2.9" fill="#1b6571"/><circle cx="692.6" cy="490.4" r="7" fill="none" stroke="#52c3d2" stroke-width="1.3"/><circle cx="692.6" cy="490.4" r="2.9" fill="#1b6571"/><line x1="77.8" y1="170.3" x2="80.3" y2="165.1" stroke="#1b6571" stroke-width="2.2" stroke-linecap="round"/><line x1="82.5" y1="170.3" x2="85.0" y2="165.1" stroke="#1b6571" stroke-width="2.2" stroke-linecap="round"/><line x1="252.4" y1="170.3" x2="254.9" y2="165.1" stroke="#1b6571" stroke-width="2.2" stroke-linecap="round"/><line x1="257.1" y1="170.3" x2="259.6" y2="165.1" stroke="#1b6571" stroke-width="2.2" stroke-linecap="round"/><line x1="330.2" y1="170.3" x2="332.7" y2="165.1" stroke="#1b6571" stroke-width="2.2" stroke-linecap="round"/><line x1="334.9" y1="170.3" x2="337.4" y2="165.1" stroke="#1b6571" stroke-width="2.2" stroke-linecap="round"/><line x1="477.6" y1="170.3" x2="480.1" y2="165.1" stroke="#1b6571" stroke-width="2.2" stroke-linecap="round"/><line x1="482.3" y1="170.3" x2="484.8" y2="165.1" stroke="#1b6571" stroke-width="2.2" stroke-linecap="round"/><rect x="271.5" y="541.5" width="371" height="82" fill="none" stroke="#6aa3ac" stroke-width="1"/></g></svg><div class="t" style="left:86.3px;top:163px;font-size:28px;color:#1b6571;font-weight:400;letter-spacing:-0.3px">从知识传授者</div><div class="t" style="left:285.9px;top:163px;font-size:28px;color:#1b6571;font-weight:400;letter-spacing:-0.3px">向</div><div class="t" style="left:338.5px;top:163px;font-size:28px;color:#1b6571;font-weight:400;letter-spacing:-0.3px">成长引路人</div><div class="t" style="left:510.3px;top:163px;font-size:28px;color:#1b6571;font-weight:400;letter-spacing:-0.3px">角色转变</div><div class="t" style="left:329.8px;top:241.8px;font-size:17.4px;font-weight:700;color:#e99a1f;-webkit-text-stroke:0.25px #e99a1f;letter-spacing:0.8px">授人以鱼</div><div class="t" style="left:526.3px;top:240.3px;font-size:17.4px;font-weight:700;color:#e99a1f;-webkit-text-stroke:0.25px #e99a1f;letter-spacing:0.8px">授人以渔</div><svg class="a" style="left:0;top:0" width="1266" height="758"><line x1="321.2" y1="246.4" x2="323.8" y2="242.2" stroke="#e99a1f" stroke-width="2" stroke-linecap="round"/><line x1="325.1" y1="246.4" x2="327.7" y2="242.2" stroke="#e99a1f" stroke-width="2" stroke-linecap="round"/><line x1="400.2" y1="246.4" x2="402.8" y2="242.2" stroke="#e99a1f" stroke-width="2" stroke-linecap="round"/><line x1="404.1" y1="246.4" x2="406.7" y2="242.2" stroke="#e99a1f" stroke-width="2" stroke-linecap="round"/><line x1="518.5" y1="245.1" x2="521.1" y2="240.9" stroke="#e99a1f" stroke-width="2" stroke-linecap="round"/><line x1="522.4" y1="245.1" x2="525.0" y2="240.9" stroke="#e99a1f" stroke-width="2" stroke-linecap="round"/><line x1="597.2" y1="245.1" x2="599.8" y2="240.9" stroke="#e99a1f" stroke-width="2" stroke-linecap="round"/><line x1="601.1" y1="245.1" x2="603.7" y2="240.9" stroke="#e99a1f" stroke-width="2" stroke-linecap="round"/></svg><div class="t" style="left:344.5px;top:363px;font-size:24px;color:transparent;background:linear-gradient(160deg,#39a7b2 0%,#237a85 45%,#17606b 100%);-webkit-background-clip:text;background-clip:text">知识</div><div class="t" style="left:333.5px;top:391.5px;font-size:24px;color:transparent;background:linear-gradient(160deg,#39a7b2 0%,#237a85 45%,#17606b 100%);-webkit-background-clip:text;background-clip:text">传授者</div><div class="t" style="left:544.5px;top:364.5px;font-size:24px;color:transparent;background:linear-gradient(160deg,#39a7b2 0%,#237a85 45%,#17606b 100%);-webkit-background-clip:text;background-clip:text">成长</div><div class="t" style="left:533.5px;top:393px;font-size:24px;color:transparent;background:linear-gradient(160deg,#39a7b2 0%,#237a85 45%,#17606b 100%);-webkit-background-clip:text;background-clip:text">引路人</div><div class="t" style="left:137.4px;top:276.90000000000003px;font-size:13.7px;color:#586a80">播音员</div><svg class="a" style="left:0;top:0" width="1266" height="758"><path d="M180.3 283.6 H187.1 M183.7 280.20000000000005 V287.0" stroke="#586a80" stroke-width="1.25"/></svg><div class="t" style="left:188.3px;top:276.90000000000003px;font-size:13.7px;color:#586a80">考官</div><div class="t" style="left:123.9px;top:348.3px;font-size:13.7px;color:#586a80">备教材</div><div class="t" style="left:108.9px;top:423.40000000000003px;font-size:13.7px;color:#586a80">讲授与演示</div><div class="t" style="left:158.0px;top:485.90000000000003px;font-size:13.7px;color:#586a80">上下级关系</div><div class="t" style="left:692.5px;top:273.1px;font-size:15.3px;color:#586a80">教练</div><svg class="a" style="left:0;top:0" width="1266" height="758"><path d="M725.5 281.2 H733 M729.25 277.45 V284.95" stroke="#586a80" stroke-width="1.25"/></svg><div class="t" style="left:735.1999999999999px;top:273.1px;font-size:15.3px;color:#586a80">设计师</div><div class="t" style="left:753.9px;top:322.40000000000003px;font-size:15.3px;color:#586a80">学习共同体</div><div class="t" style="left:779.8px;top:381.5px;font-size:15.3px;color:#586a80">情感支持</div><div class="t" style="left:767.1px;top:436.1px;font-size:15.3px;color:#586a80">个性化关怀</div><div class="t" style="left:713.8px;top:485.6px;font-size:15.3px;color:#586a80">价值观引导</div><div class="t" style="left:363.4px;top:546.5px;font-size:15px;font-weight:700;color:#1b6571;-webkit-text-stroke:0.3px #1b6571"><span style="display:inline-block;width:15.5px;text-align:center">从</span><span style="display:inline-block;width:15.5px"></span><span style="display:inline-block;width:15.5px;text-align:center">教</span><span style="display:inline-block;width:15.5px;text-align:center">什</span><span style="display:inline-block;width:15.5px;text-align:center">么</span><span style="display:inline-block;width:15.5px"></span><span style="display:inline-block;width:15.5px;text-align:center">到</span><span style="display:inline-block;width:15.5px"></span><span style="display:inline-block;width:15.5px;text-align:center">学</span><span style="display:inline-block;width:15.5px;text-align:center">什</span><span style="display:inline-block;width:15.5px;text-align:center">么</span><span style="display:inline-block;width:15.5px"></span></div><svg class="a" style="left:0;top:0" width="1266" height="758"><line x1="387.9" y1="551.1" x2="390.2" y2="547.7" stroke="#1b6571" stroke-width="1.9" stroke-linecap="round"/><line x1="391.5" y1="551.1" x2="393.8" y2="547.7" stroke="#1b6571" stroke-width="1.9" stroke-linecap="round"/><line x1="442.0" y1="551.1" x2="444.3" y2="547.7" stroke="#1b6571" stroke-width="1.9" stroke-linecap="round"/><line x1="445.6" y1="551.1" x2="447.9" y2="547.7" stroke="#1b6571" stroke-width="1.9" stroke-linecap="round"/><line x1="480.9" y1="551.1" x2="483.2" y2="547.7" stroke="#1b6571" stroke-width="1.9" stroke-linecap="round"/><line x1="484.5" y1="551.1" x2="486.8" y2="547.7" stroke="#1b6571" stroke-width="1.9" stroke-linecap="round"/><line x1="535.0" y1="551.1" x2="537.3" y2="547.7" stroke="#1b6571" stroke-width="1.9" stroke-linecap="round"/><line x1="538.6" y1="551.1" x2="540.9" y2="547.7" stroke="#1b6571" stroke-width="1.9" stroke-linecap="round"/></svg><div class="t" style="left:332.7px;top:565.15px;font-size:15px;font-weight:700;color:#1b6571;-webkit-text-stroke:0.3px #1b6571"><span style="display:inline-block;width:15.5px;text-align:center">从</span><span style="display:inline-block;width:15.5px"></span><span style="display:inline-block;width:15.5px;text-align:center">答</span><span style="display:inline-block;width:15.5px;text-align:center">案</span><span style="display:inline-block;width:15.5px;text-align:center">提</span><span style="display:inline-block;width:15.5px;text-align:center">供</span><span style="display:inline-block;width:15.5px;text-align:center">者</span><span style="display:inline-block;width:15.5px"></span><span style="display:inline-block;width:15.5px;text-align:center">到</span><span style="display:inline-block;width:15.5px"></span><span style="display:inline-block;width:15.5px;text-align:center">问</span><span style="display:inline-block;width:15.5px;text-align:center">题</span><span style="display:inline-block;width:15.5px;text-align:center">创</span><span style="display:inline-block;width:15.5px;text-align:center">设</span><span style="display:inline-block;width:15.5px;text-align:center">者</span><span style="display:inline-block;width:15.5px"></span></div><svg class="a" style="left:0;top:0" width="1266" height="758"><line x1="357.2" y1="569.8" x2="359.5" y2="566.4" stroke="#1b6571" stroke-width="1.9" stroke-linecap="round"/><line x1="360.8" y1="569.8" x2="363.1" y2="566.4" stroke="#1b6571" stroke-width="1.9" stroke-linecap="round"/><line x1="442.3" y1="569.8" x2="444.6" y2="566.4" stroke="#1b6571" stroke-width="1.9" stroke-linecap="round"/><line x1="445.9" y1="569.8" x2="448.2" y2="566.4" stroke="#1b6571" stroke-width="1.9" stroke-linecap="round"/><line x1="481.2" y1="569.8" x2="483.5" y2="566.4" stroke="#1b6571" stroke-width="1.9" stroke-linecap="round"/><line x1="484.8" y1="569.8" x2="487.1" y2="566.4" stroke="#1b6571" stroke-width="1.9" stroke-linecap="round"/><line x1="566.3" y1="569.8" x2="568.6" y2="566.4" stroke="#1b6571" stroke-width="1.9" stroke-linecap="round"/><line x1="569.9" y1="569.8" x2="572.2" y2="566.4" stroke="#1b6571" stroke-width="1.9" stroke-linecap="round"/></svg><div class="t" style="left:332.7px;top:583.8px;font-size:15px;font-weight:700;color:#1b6571;-webkit-text-stroke:0.3px #1b6571"><span style="display:inline-block;width:15.5px;text-align:center">从</span><span style="display:inline-block;width:15.5px"></span><span style="display:inline-block;width:15.5px;text-align:center">关</span><span style="display:inline-block;width:15.5px;text-align:center">注</span><span style="display:inline-block;width:15.5px;text-align:center">一</span><span style="display:inline-block;width:15.5px;text-align:center">致</span><span style="display:inline-block;width:15.5px;text-align:center">性</span><span style="display:inline-block;width:15.5px"></span><span style="display:inline-block;width:15.5px;text-align:center">到</span><span style="display:inline-block;width:15.5px"></span><span style="display:inline-block;width:15.5px;text-align:center">拥</span><span style="display:inline-block;width:15.5px;text-align:center">抱</span><span style="display:inline-block;width:15.5px;text-align:center">多</span><span style="display:inline-block;width:15.5px;text-align:center">样</span><span style="display:inline-block;width:15.5px;text-align:center">性</span><span style="display:inline-block;width:15.5px"></span></div><svg class="a" style="left:0;top:0" width="1266" height="758"><line x1="357.2" y1="588.4" x2="359.5" y2="585.0" stroke="#1b6571" stroke-width="1.9" stroke-linecap="round"/><line x1="360.8" y1="588.4" x2="363.1" y2="585.0" stroke="#1b6571" stroke-width="1.9" stroke-linecap="round"/><line x1="442.3" y1="588.4" x2="444.6" y2="585.0" stroke="#1b6571" stroke-width="1.9" stroke-linecap="round"/><line x1="445.9" y1="588.4" x2="448.2" y2="585.0" stroke="#1b6571" stroke-width="1.9" stroke-linecap="round"/><line x1="481.2" y1="588.4" x2="483.5" y2="585.0" stroke="#1b6571" stroke-width="1.9" stroke-linecap="round"/><line x1="484.8" y1="588.4" x2="487.1" y2="585.0" stroke="#1b6571" stroke-width="1.9" stroke-linecap="round"/><line x1="566.3" y1="588.4" x2="568.6" y2="585.0" stroke="#1b6571" stroke-width="1.9" stroke-linecap="round"/><line x1="569.9" y1="588.4" x2="572.2" y2="585.0" stroke="#1b6571" stroke-width="1.9" stroke-linecap="round"/></svg><div class="t" style="left:332.7px;top:602.45px;font-size:15px;font-weight:700;color:#1b6571;-webkit-text-stroke:0.3px #1b6571"><span style="display:inline-block;width:15.5px;text-align:center">从</span><span style="display:inline-block;width:15.5px"></span><span style="display:inline-block;width:15.5px;text-align:center">知</span><span style="display:inline-block;width:15.5px;text-align:center">识</span><span style="display:inline-block;width:15.5px;text-align:center">的</span><span style="display:inline-block;width:15.5px;text-align:center">终</span><span style="display:inline-block;width:15.5px;text-align:center">点</span><span style="display:inline-block;width:15.5px"></span><span style="display:inline-block;width:15.5px;text-align:center">到</span><span style="display:inline-block;width:15.5px"></span><span style="display:inline-block;width:15.5px;text-align:center">学</span><span style="display:inline-block;width:15.5px;text-align:center">习</span><span style="display:inline-block;width:15.5px;text-align:center">的</span><span style="display:inline-block;width:15.5px;text-align:center">起</span><span style="display:inline-block;width:15.5px;text-align:center">点</span><span style="display:inline-block;width:15.5px"></span></div><svg class="a" style="left:0;top:0" width="1266" height="758"><line x1="357.2" y1="607.1" x2="359.5" y2="603.7" stroke="#1b6571" stroke-width="1.9" stroke-linecap="round"/><line x1="360.8" y1="607.1" x2="363.1" y2="603.7" stroke="#1b6571" stroke-width="1.9" stroke-linecap="round"/><line x1="442.3" y1="607.1" x2="444.6" y2="603.7" stroke="#1b6571" stroke-width="1.9" stroke-linecap="round"/><line x1="445.9" y1="607.1" x2="448.2" y2="603.7" stroke="#1b6571" stroke-width="1.9" stroke-linecap="round"/><line x1="481.2" y1="607.1" x2="483.5" y2="603.7" stroke="#1b6571" stroke-width="1.9" stroke-linecap="round"/><line x1="484.8" y1="607.1" x2="487.1" y2="603.7" stroke="#1b6571" stroke-width="1.9" stroke-linecap="round"/><line x1="566.3" y1="607.1" x2="568.6" y2="603.7" stroke="#1b6571" stroke-width="1.9" stroke-linecap="round"/><line x1="569.9" y1="607.1" x2="572.2" y2="603.7" stroke="#1b6571" stroke-width="1.9" stroke-linecap="round"/></svg><div class="a" style="left:938px;top:35px;width:327px;height:723px;background:#fff"></div><div class="a" style="left:938px;top:70px;width:325px;height:1px;background:#eeeff2"></div><div class="t" style="left:949px;top:47.8px;font-size:12px;color:#3a3e48;font-weight:400;">成员(16)</div><div class="a" style="left:953.5px;top:46.6px;width:4px;height:2px;border-radius:2px 2px 0 0;background:#5a5f70"></div><svg class="a" style="left:1230px;top:47px" width="12" height="12" viewBox="0 0 12 12">
<path d="M3.5 1 H1.5 Q1 1 1 1.5 V10.5 Q1 11 1.5 11 H10.5 Q11 11 11 10.5 V8" fill="none" stroke="#3d4250" stroke-width="1.2"/>
<rect x="5.6" y="1" width="5.4" height="4.6" fill="none" stroke="#3d4250" stroke-width="1.2"/></svg><svg class="a" style="left:1250px;top:48px" width="11" height="11" viewBox="0 0 11 11"><path d="M0.7 0.7 L10.3 10.3 M10.3 0.7 L0.7 10.3" stroke="#3d4250" stroke-width="1.2"/></svg><div class="a" style="left:946px;top:78px;width:285px;height:28px;border:1px solid #dcdde2;border-radius:4px;box-sizing:border-box"></div><svg class="a" style="left:955px;top:86px" width="14" height="14" viewBox="0 0 14 14"><circle cx="6" cy="6" r="5" fill="none" stroke="#333843" stroke-width="1.3"/><path d="M9.6 9.6 L13 13" stroke="#333843" stroke-width="1.4"/></svg><div class="t" style="left:973px;top:86.5px;font-size:13px;color:#9a9ea8;font-weight:400;">搜索成员</div><div class="a" style="left:1235px;top:78px;width:30px;height:28px;border-radius:4px;background:#f3f4f6"></div><svg class="a" style="left:1241px;top:83px" width="17" height="17" viewBox="0 0 17 17">
<circle cx="7.5" cy="5" r="4" fill="none" stroke="#333843" stroke-width="1.3"/><path d="M1 16 Q1.5 10 7.5 9.5 Q10 9.5 11.5 10.5" fill="none" stroke="#333843" stroke-width="1.3"/>
<path d="M10.5 13.2 H16 M13.25 10.5 V16" stroke="#333843" stroke-width="1.3"/></svg><div class="a" style="left:948px;top:124.8px;width:27px;height:27px;border-radius:50%;background:#3376c8"></div><div class="t" style="left:950.5px;top:132.10000000000002px;font-size:11px;color:#fff;font-weight:400;">向艳</div><div class="t" style="left:982px;top:126.80000000000001px;font-size:10px;color:#222;font-weight:400;">向艳</div><div class="t" style="left:981.5px;top:141.3px;font-size:10px;color:#8a8f99;font-weight:400;">(主持人)</div><svg class="a" style="left:1190.5px;top:131.3px" width="14" height="14" viewBox="0 0 14 14"><circle cx="7" cy="7" r="6" fill="none" stroke="#f5524a" stroke-width="1"/><circle cx="7" cy="7" r="3.8" fill="#f0302a"/></svg><svg class="a" style="left:1213px;top:131.3px" width="12" height="14" viewBox="0 0 12 14"><rect x="3.5" y="0.5" width="5" height="8.5" rx="2.5" fill="#7d8291"/><path d="M1.8 6.5 Q1.8 10.6 6 10.6 Q10.2 10.6 10.2 6.5" fill="none" stroke="#7d8291" stroke-width="1"/><path d="M6 10.6 V12.8 M3.5 13 H8.5" stroke="#7d8291" stroke-width="1"/><path d="M0.8 12.2 L11 1.6" stroke="#fff" stroke-width="1.3" opacity="0.7"/><path d="M0.6 12.4 L11.2 1.4" stroke="#f5503a" stroke-width="1.35"/></svg><svg class="a" style="left:1234px;top:133.3px" width="13" height="10" viewBox="0 0 13 10"><rect x="0.2" y="0.8" width="9" height="8.6" rx="1" fill="#7d8291"/><path d="M9 3.8 L12.6 1.6 V8.6 L9 6.4Z" fill="#7d8291"/><path d="M1 10 L10.5 0" stroke="#fff" stroke-width="1.4" opacity="0.8"/><path d="M1 10 L10.5 0" stroke="#f5503a" stroke-width="1.3"/></svg><svg class="a" style="left:948px;top:164.0px;border-radius:50%" width="27" height="27" viewBox="0 0 27 27"><clipPath id="av1"><circle cx="13.5" cy="13.5" r="13.5"/></clipPath><g clip-path="url(#av1)" filter="url(#blur1)"><rect width="27" height="27" fill="#8896a2"/><rect x="0" y="0" width="27" height="10" fill="#9aa8b8"/><ellipse cx="12" cy="8" rx="9" ry="6.5" fill="#b4a848"/><ellipse cx="20" cy="11" rx="5" ry="5" fill="#5a6868"/><ellipse cx="5" cy="12" rx="4" ry="5" fill="#6a7a80"/><rect x="0" y="15.5" width="27" height="3" fill="#c4ccd4"/><rect x="0" y="18" width="27" height="9" fill="#b8a47a"/><rect x="12.5" y="12" width="2" height="10" fill="#1e1e1e"/><circle cx="23" cy="14" r="2" fill="#a04050" opacity="0.6"/></g></svg><div class="t" style="left:982px;top:174.06px;font-size:10px;color:#222;font-weight:400;">韩立</div><svg class="a" style="left:1191px;top:171.46px" width="13" height="12" viewBox="0 0 13 12"><rect x="0" y="0" width="12.5" height="9" rx="1.2" fill="#7d8291"/><rect x="3.2" y="10.4" width="6" height="1.2" fill="#7d8291"/><path d="M3.8 6.4 Q4.3 3.8 7.3 3.6 M6.3 2.4 L7.8 3.6 L6.3 4.9" fill="none" stroke="#fff" stroke-width="1"/></svg><svg class="a" style="left:1213px;top:170.46px" width="12" height="14" viewBox="0 0 12 14"><rect x="3.5" y="0.5" width="5" height="8.5" rx="2.5" fill="#7d8291"/><rect x="3.5" y="3" width="5" height="6" rx="1.5" fill="#2dc588"/><path d="M1.8 6.5 Q1.8 10.6 6 10.6 Q10.2 10.6 10.2 6.5" fill="none" stroke="#7d8291" stroke-width="1"/><path d="M6 10.6 V12.8 M3.5 13 H8.5" stroke="#7d8291" stroke-width="1"/></svg><svg class="a" style="left:1234px;top:172.46px" width="13" height="10" viewBox="0 0 13 10"><rect x="0.2" y="0.8" width="9" height="8.6" rx="1" fill="#7d8291"/><path d="M9 3.8 L12.6 1.6 V8.6 L9 6.4Z" fill="#7d8291"/><path d="M1 10 L10.5 0" stroke="#fff" stroke-width="1.4" opacity="0.8"/><path d="M1 10 L10.5 0" stroke="#f5503a" stroke-width="1.3"/></svg><svg class="a" style="left:948px;top:203.1px;border-radius:50%" width="27" height="27" viewBox="0 0 27 27"><clipPath id="av2"><circle cx="13.5" cy="13.5" r="13.5"/></clipPath><g clip-path="url(#av2)" filter="url(#blur1)"><rect width="27" height="27" fill="#c0ccd4"/><rect width="27" height="9" fill="#86b4dc"/><rect y="6" width="27" height="5" fill="#d8e0e8" opacity="0.8"/><rect y="11" width="27" height="8" fill="#9c9c98"/><ellipse cx="13" cy="24" rx="10.5" ry="7" fill="#9ccc50"/><circle cx="13.5" cy="11.5" r="3.3" fill="#7a5a44"/><rect x="17" y="18" width="1" height="9" fill="#303028"/></g></svg><div class="t" style="left:982px;top:213.22px;font-size:10px;color:#222;font-weight:400;">李政军</div><svg class="a" style="left:1213px;top:209.62px" width="12" height="14" viewBox="0 0 12 14"><rect x="3.5" y="0.5" width="5" height="8.5" rx="2.5" fill="#7d8291"/><path d="M1.8 6.5 Q1.8 10.6 6 10.6 Q10.2 10.6 10.2 6.5" fill="none" stroke="#7d8291" stroke-width="1"/><path d="M6 10.6 V12.8 M3.5 13 H8.5" stroke="#7d8291" stroke-width="1"/></svg><svg class="a" style="left:1234px;top:211.62px" width="13" height="10" viewBox="0 0 13 10"><rect x="0.2" y="0.8" width="9" height="8.6" rx="1" fill="#7d8291"/><path d="M9 3.8 L12.6 1.6 V8.6 L9 6.4Z" fill="#7d8291"/><path d="M1 10 L10.5 0" stroke="#fff" stroke-width="1.4" opacity="0.8"/><path d="M1 10 L10.5 0" stroke="#f5503a" stroke-width="1.3"/></svg><svg class="a" style="left:948px;top:242.3px;border-radius:50%" width="27" height="27" viewBox="0 0 27 27"><clipPath id="av3"><circle cx="13.5" cy="13.5" r="13.5"/></clipPath><g clip-path="url(#av3)" filter="url(#blur1)"><rect width="27" height="27" fill="#f7f3f1"/><ellipse cx="13" cy="12" rx="9" ry="4" fill="#e8c0a8"/><circle cx="13.5" cy="10.5" r="3.8" fill="#e8c8b4"/><path d="M10 7 L12 3 L16 6Z" fill="#7a4a30"/><ellipse cx="12" cy="20" rx="5" ry="5.5" fill="#5a3020"/><ellipse cx="16" cy="19" rx="3" ry="3" fill="#c8906a"/></g></svg><div class="t" style="left:982px;top:252.38px;font-size:10px;color:#222;font-weight:400;">高建伟</div><svg class="a" style="left:1213px;top:248.78px" width="12" height="14" viewBox="0 0 12 14"><rect x="3.5" y="0.5" width="5" height="8.5" rx="2.5" fill="#7d8291"/><path d="M1.8 6.5 Q1.8 10.6 6 10.6 Q10.2 10.6 10.2 6.5" fill="none" stroke="#7d8291" stroke-width="1"/><path d="M6 10.6 V12.8 M3.5 13 H8.5" stroke="#7d8291" stroke-width="1"/><path d="M0.8 12.2 L11 1.6" stroke="#fff" stroke-width="1.3" opacity="0.7"/><path d="M0.6 12.4 L11.2 1.4" stroke="#f5503a" stroke-width="1.35"/></svg><svg class="a" style="left:1234px;top:250.78px" width="13" height="10" viewBox="0 0 13 10"><rect x="0.2" y="0.8" width="9" height="8.6" rx="1" fill="#7d8291"/><path d="M9 3.8 L12.6 1.6 V8.6 L9 6.4Z" fill="#7d8291"/><path d="M1 10 L10.5 0" stroke="#fff" stroke-width="1.4" opacity="0.8"/><path d="M1 10 L10.5 0" stroke="#f5503a" stroke-width="1.3"/></svg><svg class="a" style="left:948px;top:281.4px;border-radius:50%" width="27" height="27" viewBox="0 0 27 27"><clipPath id="av4"><circle cx="13.5" cy="13.5" r="13.5"/></clipPath><g clip-path="url(#av4)" filter="url(#blur1)"><rect width="27" height="27" fill="#4a9cd4"/><rect width="27" height="9" fill="#8ccaf0"/><rect y="9" width="27" height="6" fill="#64b0e0"/><path d="M0 19 Q6 16 12 18 Q18 15 22 17 L27 16 V27 H0Z" fill="#0e161c"/></g></svg><div class="t" style="left:982px;top:291.54px;font-size:10px;color:#222;font-weight:400;">刘会贵</div><svg class="a" style="left:1213px;top:287.94px" width="12" height="14" viewBox="0 0 12 14"><rect x="3.5" y="0.5" width="5" height="8.5" rx="2.5" fill="#7d8291"/><path d="M1.8 6.5 Q1.8 10.6 6 10.6 Q10.2 10.6 10.2 6.5" fill="none" stroke="#7d8291" stroke-width="1"/><path d="M6 10.6 V12.8 M3.5 13 H8.5" stroke="#7d8291" stroke-width="1"/><path d="M0.8 12.2 L11 1.6" stroke="#fff" stroke-width="1.3" opacity="0.7"/><path d="M0.6 12.4 L11.2 1.4" stroke="#f5503a" stroke-width="1.35"/></svg><svg class="a" style="left:1234px;top:289.94px" width="13" height="10" viewBox="0 0 13 10"><rect x="0.2" y="0.8" width="9" height="8.6" rx="1" fill="#7d8291"/><path d="M9 3.8 L12.6 1.6 V8.6 L9 6.4Z" fill="#7d8291"/><path d="M1 10 L10.5 0" stroke="#fff" stroke-width="1.4" opacity="0.8"/><path d="M1 10 L10.5 0" stroke="#f5503a" stroke-width="1.3"/></svg><svg class="a" style="left:948px;top:320.6px;border-radius:50%" width="27" height="27" viewBox="0 0 27 27"><clipPath id="av5"><circle cx="13.5" cy="13.5" r="13.5"/></clipPath><g clip-path="url(#av5)" filter="url(#blur1)"><rect width="27" height="27" fill="#fbfaf9"/><circle cx="8" cy="4.5" r="2.6" fill="#1a1a1a"/><circle cx="19.5" cy="5" r="2.6" fill="#1a1a1a"/><circle cx="14" cy="12" r="6" fill="#ecd8c4"/><circle cx="14" cy="13" r="4" fill="#f4e4dc"/><path d="M3 15 L9 14 L8 19Z" fill="#c04030" opacity="0.8"/><ellipse cx="13" cy="22" rx="5" ry="4" fill="#eee0b8"/><circle cx="10" cy="25" r="2" fill="#e8c040"/></g></svg><div class="t" style="left:982px;top:330.70000000000005px;font-size:10px;color:#222;font-weight:400;">刘小双</div><svg class="a" style="left:1213px;top:327.1px" width="12" height="14" viewBox="0 0 12 14"><rect x="3.5" y="0.5" width="5" height="8.5" rx="2.5" fill="#7d8291"/><path d="M1.8 6.5 Q1.8 10.6 6 10.6 Q10.2 10.6 10.2 6.5" fill="none" stroke="#7d8291" stroke-width="1"/><path d="M6 10.6 V12.8 M3.5 13 H8.5" stroke="#7d8291" stroke-width="1"/><path d="M0.8 12.2 L11 1.6" stroke="#fff" stroke-width="1.3" opacity="0.7"/><path d="M0.6 12.4 L11.2 1.4" stroke="#f5503a" stroke-width="1.35"/></svg><svg class="a" style="left:1234px;top:329.1px" width="13" height="10" viewBox="0 0 13 10"><rect x="0.2" y="0.8" width="9" height="8.6" rx="1" fill="#7d8291"/><path d="M9 3.8 L12.6 1.6 V8.6 L9 6.4Z" fill="#7d8291"/><path d="M1 10 L10.5 0" stroke="#fff" stroke-width="1.4" opacity="0.8"/><path d="M1 10 L10.5 0" stroke="#f5503a" stroke-width="1.3"/></svg><svg class="a" style="left:948px;top:359.8px;border-radius:50%" width="27" height="27" viewBox="0 0 27 27"><clipPath id="av6"><circle cx="13.5" cy="13.5" r="13.5"/></clipPath><g clip-path="url(#av6)" filter="url(#blur1)"><rect width="27" height="27" fill="#faf6f4"/><circle cx="16" cy="9" r="8" fill="#e4c29a"/><circle cx="16" cy="13" r="5.5" fill="#3e302a"/><circle cx="16" cy="14" r="3.6" fill="#f6e6de"/><circle cx="7" cy="20" r="5" fill="#e890a0"/><circle cx="5" cy="23" r="3" fill="#78b070"/><ellipse cx="16" cy="23" rx="5" ry="4" fill="#f0f0f0"/></g></svg><div class="t" style="left:982px;top:369.86px;font-size:10px;color:#222;font-weight:400;">章燕玲</div><svg class="a" style="left:1213px;top:366.26px" width="12" height="14" viewBox="0 0 12 14"><rect x="3.5" y="0.5" width="5" height="8.5" rx="2.5" fill="#7d8291"/><path d="M1.8 6.5 Q1.8 10.6 6 10.6 Q10.2 10.6 10.2 6.5" fill="none" stroke="#7d8291" stroke-width="1"/><path d="M6 10.6 V12.8 M3.5 13 H8.5" stroke="#7d8291" stroke-width="1"/><path d="M0.8 12.2 L11 1.6" stroke="#fff" stroke-width="1.3" opacity="0.7"/><path d="M0.6 12.4 L11.2 1.4" stroke="#f5503a" stroke-width="1.35"/></svg><svg class="a" style="left:1234px;top:368.26px" width="13" height="10" viewBox="0 0 13 10"><rect x="0.2" y="0.8" width="9" height="8.6" rx="1" fill="#7d8291"/><path d="M9 3.8 L12.6 1.6 V8.6 L9 6.4Z" fill="#7d8291"/><path d="M1 10 L10.5 0" stroke="#fff" stroke-width="1.4" opacity="0.8"/><path d="M1 10 L10.5 0" stroke="#f5503a" stroke-width="1.3"/></svg><svg class="a" style="left:948px;top:398.9px;border-radius:50%" width="27" height="27" viewBox="0 0 27 27"><clipPath id="av7"><circle cx="13.5" cy="13.5" r="13.5"/></clipPath><g clip-path="url(#av7)" filter="url(#blur1)"><rect width="27" height="27" fill="#e6ded6"/><circle cx="13" cy="13" r="9.5" fill="#6e9a5a"/><circle cx="10" cy="10" r="4" fill="#4a7a3a"/><circle cx="17" cy="15" r="4" fill="#3e6e34"/><circle cx="14" cy="7" r="2.5" fill="#8ab878"/></g></svg><div class="t" style="left:982px;top:409.02000000000004px;font-size:10px;color:#222;font-weight:400;">蔡志强</div><svg class="a" style="left:1234px;top:405.42px" width="12" height="14" viewBox="0 0 12 14"><rect x="3.5" y="0.5" width="5" height="8.5" rx="2.5" fill="#7d8291"/><path d="M1.8 6.5 Q1.8 10.6 6 10.6 Q10.2 10.6 10.2 6.5" fill="none" stroke="#7d8291" stroke-width="1"/><path d="M6 10.6 V12.8 M3.5 13 H8.5" stroke="#7d8291" stroke-width="1"/><path d="M0.8 12.2 L11 1.6" stroke="#fff" stroke-width="1.3" opacity="0.7"/><path d="M0.6 12.4 L11.2 1.4" stroke="#f5503a" stroke-width="1.35"/></svg><svg class="a" style="left:948px;top:438.1px;border-radius:50%" width="27" height="27" viewBox="0 0 27 27"><clipPath id="av8"><circle cx="13.5" cy="13.5" r="13.5"/></clipPath><g clip-path="url(#av8)" filter="url(#blur1)"><rect width="27" height="27" fill="#7a8a80"/><rect width="27" height="10" fill="#78acdc"/><rect y="9" width="27" height="4" fill="#c0d4e0"/><rect y="13" width="27" height="7" fill="#6a92ac"/><rect y="20" width="27" height="7" fill="#8a8a70"/><rect x="16" y="17" width="2.5" height="6" fill="#2858a8"/></g></svg><div class="t" style="left:982px;top:448.18px;font-size:10px;color:#222;font-weight:400;">丁颖</div><svg class="a" style="left:1234px;top:444.58px" width="12" height="14" viewBox="0 0 12 14"><rect x="3.5" y="0.5" width="5" height="8.5" rx="2.5" fill="#7d8291"/><path d="M1.8 6.5 Q1.8 10.6 6 10.6 Q10.2 10.6 10.2 6.5" fill="none" stroke="#7d8291" stroke-width="1"/><path d="M6 10.6 V12.8 M3.5 13 H8.5" stroke="#7d8291" stroke-width="1"/><path d="M0.8 12.2 L11 1.6" stroke="#fff" stroke-width="1.3" opacity="0.7"/><path d="M0.6 12.4 L11.2 1.4" stroke="#f5503a" stroke-width="1.35"/></svg><svg class="a" style="left:948px;top:477.2px;border-radius:50%" width="27" height="27" viewBox="0 0 27 27"><clipPath id="av9"><circle cx="13.5" cy="13.5" r="13.5"/></clipPath><g clip-path="url(#av9)" filter="url(#blur1)"><rect width="27" height="27" fill="#e6ded8"/><path d="M0 0 H14 L8 14 L0 16Z" fill="#4a3a34"/><circle cx="11" cy="10" r="5.5" fill="#dcb49c"/><circle cx="17" cy="17" r="7" fill="#eaccb8"/><path d="M12 10 Q18 6 24 12 L24 10 Q18 4 12 8Z" fill="#5a4434"/></g></svg><div class="t" style="left:982px;top:487.34px;font-size:10px;color:#222;font-weight:400;">康金红 南师大中北学院</div><svg class="a" style="left:1234px;top:483.73999999999995px" width="12" height="14" viewBox="0 0 12 14"><rect x="3.5" y="0.5" width="5" height="8.5" rx="2.5" fill="#7d8291"/><path d="M1.8 6.5 Q1.8 10.6 6 10.6 Q10.2 10.6 10.2 6.5" fill="none" stroke="#7d8291" stroke-width="1"/><path d="M6 10.6 V12.8 M3.5 13 H8.5" stroke="#7d8291" stroke-width="1"/><path d="M0.8 12.2 L11 1.6" stroke="#fff" stroke-width="1.3" opacity="0.7"/><path d="M0.6 12.4 L11.2 1.4" stroke="#f5503a" stroke-width="1.35"/></svg><svg class="a" style="left:948px;top:516.4px;border-radius:50%" width="27" height="27" viewBox="0 0 27 27"><clipPath id="av10"><circle cx="13.5" cy="13.5" r="13.5"/></clipPath><g clip-path="url(#av10)" filter="url(#blur1)"><rect width="27" height="27" fill="#5e9a4c"/><circle cx="12" cy="13" r="9.5" fill="#efeeea"/><circle cx="7.5" cy="16" r="4.2" fill="#161616"/><circle cx="20.5" cy="16" r="6" fill="#f2b824"/><circle cx="20.5" cy="16" r="2" fill="#d08a10"/><circle cx="13" cy="8" r="1.3" fill="#222"/></g></svg><div class="t" style="left:982px;top:526.5px;font-size:10px;color:#222;font-weight:400;">邱</div><svg class="a" style="left:1234px;top:522.9px" width="12" height="14" viewBox="0 0 12 14"><rect x="3.5" y="0.5" width="5" height="8.5" rx="2.5" fill="#7d8291"/><path d="M1.8 6.5 Q1.8 10.6 6 10.6 Q10.2 10.6 10.2 6.5" fill="none" stroke="#7d8291" stroke-width="1"/><path d="M6 10.6 V12.8 M3.5 13 H8.5" stroke="#7d8291" stroke-width="1"/><path d="M0.8 12.2 L11 1.6" stroke="#fff" stroke-width="1.3" opacity="0.7"/><path d="M0.6 12.4 L11.2 1.4" stroke="#f5503a" stroke-width="1.35"/></svg><svg class="a" style="left:948px;top:555.6px;border-radius:50%" width="27" height="27" viewBox="0 0 27 27"><clipPath id="av11"><circle cx="13.5" cy="13.5" r="13.5"/></clipPath><g clip-path="url(#av11)" filter="url(#blur1)"><rect width="27" height="27" fill="#4a3a2a"/><rect width="27" height="8" fill="#7a8aa0" opacity="0.6"/><ellipse cx="15" cy="17" rx="7.5" ry="6" fill="#f08a22"/><circle cx="9" cy="9" r="4" fill="#8a7a50"/><circle cx="20" cy="8" r="3" fill="#a09060"/><path d="M3 3 L12 12" stroke="#2a2018" stroke-width="1.5"/></g></svg><div class="t" style="left:982px;top:565.66px;font-size:10px;color:#222;font-weight:400;">宋湘琴</div><svg class="a" style="left:1234px;top:562.06px" width="12" height="14" viewBox="0 0 12 14"><rect x="3.5" y="0.5" width="5" height="8.5" rx="2.5" fill="#7d8291"/><path d="M1.8 6.5 Q1.8 10.6 6 10.6 Q10.2 10.6 10.2 6.5" fill="none" stroke="#7d8291" stroke-width="1"/><path d="M6 10.6 V12.8 M3.5 13 H8.5" stroke="#7d8291" stroke-width="1"/><path d="M0.8 12.2 L11 1.6" stroke="#fff" stroke-width="1.3" opacity="0.7"/><path d="M0.6 12.4 L11.2 1.4" stroke="#f5503a" stroke-width="1.35"/></svg><svg class="a" style="left:948px;top:594.7px;border-radius:50%" width="27" height="27" viewBox="0 0 27 27"><clipPath id="av12"><circle cx="13.5" cy="13.5" r="13.5"/></clipPath><g clip-path="url(#av12)" filter="url(#blur1)"><rect width="27" height="27" fill="#b6cce0"/><rect width="27" height="12" fill="#a4c2dc"/><rect y="16" width="27" height="11" fill="#9ab4c8"/><path d="M8 27 L14 20 L20 27Z" fill="#d8ccd0"/><circle cx="13" cy="15" r="1" fill="#f0e8e8"/></g></svg><div class="t" style="left:982px;top:604.82px;font-size:10px;color:#222;font-weight:400;">谭美容</div><svg class="a" style="left:1234px;top:601.22px" width="12" height="14" viewBox="0 0 12 14"><rect x="3.5" y="0.5" width="5" height="8.5" rx="2.5" fill="#7d8291"/><path d="M1.8 6.5 Q1.8 10.6 6 10.6 Q10.2 10.6 10.2 6.5" fill="none" stroke="#7d8291" stroke-width="1"/><path d="M6 10.6 V12.8 M3.5 13 H8.5" stroke="#7d8291" stroke-width="1"/><path d="M0.8 12.2 L11 1.6" stroke="#fff" stroke-width="1.3" opacity="0.7"/><path d="M0.6 12.4 L11.2 1.4" stroke="#f5503a" stroke-width="1.35"/></svg><svg class="a" style="left:948px;top:633.9px;border-radius:50%" width="27" height="27" viewBox="0 0 27 27"><clipPath id="av13"><circle cx="13.5" cy="13.5" r="13.5"/></clipPath><g clip-path="url(#av13)" filter="url(#blur1)"><rect width="27" height="27" fill="#f2e68c"/><ellipse cx="12" cy="16" rx="7.5" ry="8" fill="#cc6a24"/><ellipse cx="11" cy="18" rx="4" ry="4" fill="#a84a14"/><path d="M14 3 L19 9 L15 10Z" fill="#d89040"/><circle cx="4" cy="20" r="2" fill="#e8a040"/></g></svg><div class="t" style="left:982px;top:643.9799999999999px;font-size:10px;color:#222;font-weight:400;">王莉姗</div><svg class="a" style="left:1234px;top:640.3799999999999px" width="12" height="14" viewBox="0 0 12 14"><rect x="3.5" y="0.5" width="5" height="8.5" rx="2.5" fill="#7d8291"/><path d="M1.8 6.5 Q1.8 10.6 6 10.6 Q10.2 10.6 10.2 6.5" fill="none" stroke="#7d8291" stroke-width="1"/><path d="M6 10.6 V12.8 M3.5 13 H8.5" stroke="#7d8291" stroke-width="1"/><path d="M0.8 12.2 L11 1.6" stroke="#fff" stroke-width="1.3" opacity="0.7"/><path d="M0.6 12.4 L11.2 1.4" stroke="#f5503a" stroke-width="1.35"/></svg><svg class="a" style="left:948px;top:673.0px;border-radius:50%" width="27" height="27" viewBox="0 0 27 27"><clipPath id="av14"><circle cx="13.5" cy="13.5" r="13.5"/></clipPath><g clip-path="url(#av14)" filter="url(#blur1)"><rect width="27" height="27" fill="#fbf6f4"/><circle cx="15" cy="13" r="9" fill="#f4d8d8"/><circle cx="13.5" cy="7" r="5.5" fill="#e4d48c"/><circle cx="13.5" cy="11" r="3.8" fill="#f6eee2"/><ellipse cx="12" cy="23" rx="11" ry="5.5" fill="#e8c030"/><path d="M10 17 L14 19 L18 17 L14 22Z" fill="#1a1a1a"/></g></svg><div class="t" style="left:982px;top:683.14px;font-size:10px;color:#222;font-weight:400;">张月莹（天津商业大学）</div><svg class="a" style="left:1234px;top:679.54px" width="12" height="14" viewBox="0 0 12 14"><rect x="3.5" y="0.5" width="5" height="8.5" rx="2.5" fill="#7d8291"/><path d="M1.8 6.5 Q1.8 10.6 6 10.6 Q10.2 10.6 10.2 6.5" fill="none" stroke="#7d8291" stroke-width="1"/><path d="M6 10.6 V12.8 M3.5 13 H8.5" stroke="#7d8291" stroke-width="1"/><path d="M0.8 12.2 L11 1.6" stroke="#fff" stroke-width="1.3" opacity="0.7"/><path d="M0.6 12.4 L11.2 1.4" stroke="#f5503a" stroke-width="1.35"/></svg><div class="a" style="left:938px;top:705px;width:325px;height:1px;background:#eeeff2"></div><div class="a btn" style="left:1021px;top:717px;width:78px;height:25px">修改会中昵称</div><div class="a btn" style="left:1113px;top:717px;width:78px;height:25px">解除静音</div><div class="a" style="left:871px;top:48px;width:215px;height:32px;background:#2c2f32;border:1px solid #1c1e20;box-sizing:border-box;overflow:hidden"><svg style="position:absolute;left:0;top:0" width="215" height="32" viewBox="871 48 215 32"><path d="M1051.7 67 L1064.2 54.5 L1069.8 60 L1057.3 73.6Z" fill="#404246"/><polyline points="1067.6,70.6 1076.2,62 1086,71.8" fill="none" stroke="#3d3f43" stroke-width="7.8"/></svg></div><svg class="a" style="left:879px;top:56px" width="16" height="16" viewBox="0 0 16 16">
<rect x="5.5" y="1" width="5.5" height="9" rx="2.75" fill="#f0f0f0"/><path d="M3.5 7.5 Q3.5 11.8 8.2 11.8 Q12.9 11.8 12.9 7.5" fill="none" stroke="#f0f0f0" stroke-width="1.1"/><path d="M8.2 11.8 V14.5 M5.8 14.6 H10.6" stroke="#f0f0f0" stroke-width="1.1"/>
<path d="M1.5 15 L14.5 1" stroke="#2b2e33" stroke-width="2.2"/><path d="M1.5 15 L14.5 1" stroke="#c0392b" stroke-width="1.1"/></svg><div class="a" style="left:902px;top:55px;width:1px;height:18px;background:#4a4d52"></div><div class="t" style="left:910px;top:59px;font-size:11px;color:#e8e8e8;font-weight:400;">正在讲话:&nbsp;&nbsp;韩立;</div><div class="a" style="left:9px;top:727px;width:118px;height:21px;border-radius:2px;background:#646464"></div><svg class="a" style="left:14px;top:731px" width="11" height="14" viewBox="0 0 11 14"><rect x="2.8" y="0.5" width="5.4" height="8.5" rx="2.7" fill="#21c08a"/><path d="M1 6.8 Q1 10.8 5.5 10.8 Q10 10.8 10 6.8" fill="none" stroke="#eee" stroke-width="1.1"/><path d="M5.5 10.8 V13.3" stroke="#eee" stroke-width="1.1"/></svg><svg class="a" style="left:32px;top:732px" width="12" height="12" viewBox="0 0 12 12"><rect x="0.5" y="0.5" width="11" height="8.5" rx="1" fill="#f4f4f4"/><rect x="3.5" y="10.3" width="5" height="1.3" fill="#f4f4f4"/><path d="M3.5 6.5 L6 4 L8.5 6.5" fill="none" stroke="#646464" stroke-width="1.1"/></svg><div class="t" style="left:48.6px;top:732.6px;font-size:12.3px;color:#f2f2f2;font-weight:400;letter-spacing:0.8px">韩立正在共享</div>
</body></html>
